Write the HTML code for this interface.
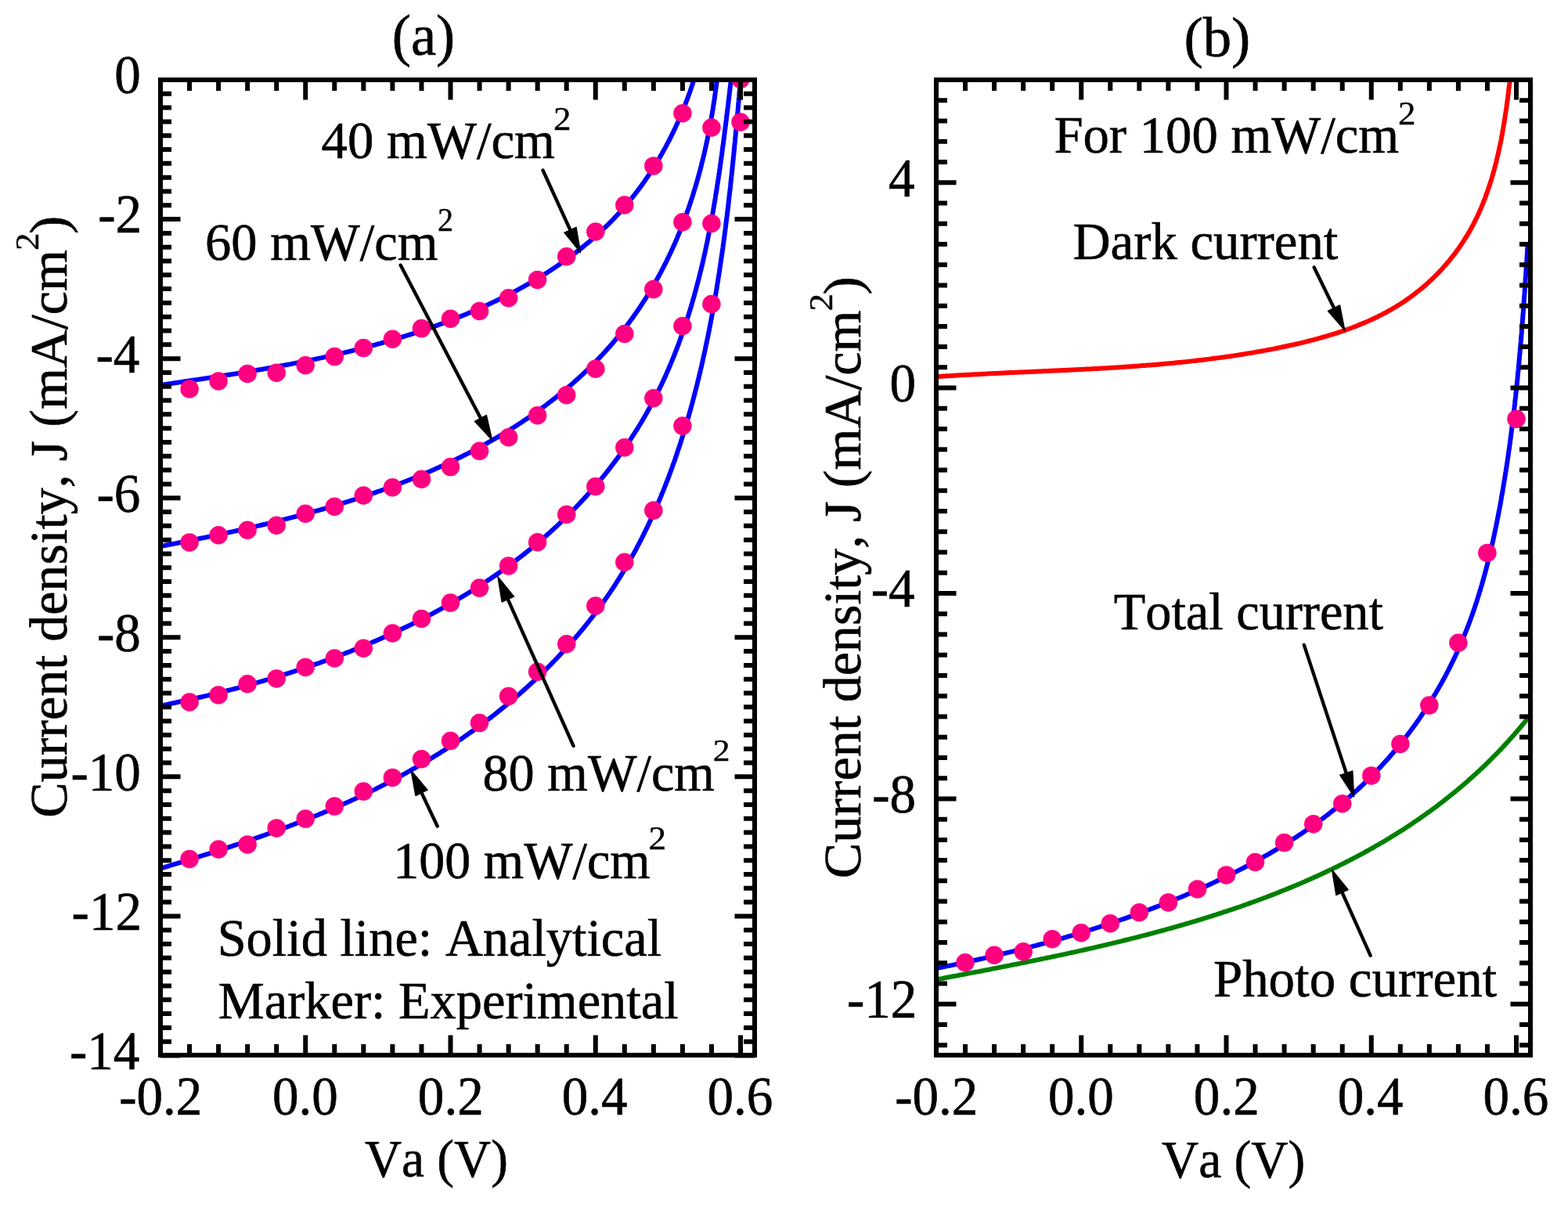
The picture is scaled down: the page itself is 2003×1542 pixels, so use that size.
<!DOCTYPE html><html><head><meta charset="utf-8"><title>J-V curves</title><style>html,body{margin:0;padding:0;background:#fff;overflow:hidden}svg{display:block}</style></head><body>
<svg width="2003" height="1542" viewBox="0 0 2003 1542">
<rect width="2003" height="1542" fill="#fff"/>
<defs><clipPath id="ca"><rect x="205" y="102" width="759" height="1246"/></clipPath><clipPath id="cb"><rect x="1196" y="102" width="759" height="1246.5"/></clipPath></defs>
<g clip-path="url(#ca)">
<path d="M205.2,491.9 L206.8,491.6 L208.4,491.4 L210.1,491.1 L211.7,490.9 L213.4,490.7 L215.0,490.4 L216.7,490.2 L218.3,490.0 L219.9,489.7 L221.6,489.5 L223.2,489.2 L224.9,489.0 L226.5,488.8 L228.2,488.5 L229.8,488.3 L231.5,488.0 L233.1,487.8 L234.7,487.5 L236.4,487.3 L238.0,487.1 L239.7,486.8 L241.3,486.6 L243.0,486.3 L244.6,486.1 L246.3,485.8 L247.9,485.6 L249.6,485.4 L251.2,485.1 L252.9,484.9 L254.5,484.6 L256.2,484.4 L257.8,484.1 L259.5,483.9 L261.1,483.6 L262.8,483.4 L264.4,483.1 L266.0,482.9 L267.7,482.6 L269.3,482.4 L271.0,482.1 L272.6,481.9 L274.3,481.6 L275.9,481.4 L277.6,481.1 L279.2,480.8 L280.9,480.6 L282.5,480.3 L284.2,480.1 L285.8,479.8 L287.5,479.6 L289.1,479.3 L290.8,479.0 L292.4,478.8 L294.1,478.5 L295.7,478.2 L297.4,478.0 L299.0,477.7 L300.7,477.5 L302.3,477.2 L304.0,476.9 L305.6,476.7 L307.3,476.4 L308.9,476.1 L310.6,475.8 L312.2,475.6 L313.9,475.3 L315.5,475.0 L317.2,474.8 L318.8,474.5 L320.5,474.2 L322.1,473.9 L323.8,473.6 L325.4,473.4 L327.1,473.1 L328.7,472.8 L330.3,472.5 L332.0,472.2 L333.6,472.0 L335.3,471.7 L336.9,471.4 L338.6,471.1 L340.2,470.8 L341.9,470.5 L343.5,470.2 L345.2,469.9 L346.8,469.6 L348.5,469.3 L350.1,469.0 L351.8,468.7 L353.4,468.4 L355.0,468.1 L356.7,467.8 L358.3,467.5 L360.0,467.2 L361.6,466.9 L363.3,466.6 L364.9,466.3 L366.5,466.0 L368.2,465.7 L369.8,465.4 L371.5,465.1 L373.1,464.7 L374.8,464.4 L376.4,464.1 L378.0,463.8 L379.7,463.5 L381.3,463.1 L383.0,462.8 L384.6,462.5 L386.2,462.2 L387.9,461.8 L389.5,461.5 L391.2,461.2 L392.8,460.8 L394.4,460.5 L396.1,460.2 L397.7,459.8 L399.4,459.5 L401.0,459.2 L402.6,458.8 L404.3,458.5 L405.9,458.1 L407.5,457.8 L409.2,457.4 L410.8,457.1 L412.4,456.7 L414.1,456.4 L415.7,456.0 L417.3,455.6 L419.0,455.3 L420.6,454.9 L422.2,454.6 L423.9,454.2 L425.5,453.8 L427.1,453.5 L428.7,453.1 L430.4,452.7 L432.0,452.3 L433.6,452.0 L435.3,451.6 L436.9,451.2 L438.5,450.8 L440.1,450.4 L441.8,450.0 L443.4,449.7 L445.0,449.3 L446.6,448.9 L448.3,448.5 L449.9,448.1 L451.5,447.7 L453.1,447.3 L454.7,446.9 L456.4,446.5 L458.0,446.1 L459.6,445.6 L461.2,445.2 L462.8,444.8 L464.5,444.4 L466.1,444.0 L467.7,443.6 L469.3,443.1 L470.9,442.7 L472.5,442.3 L474.2,441.9 L475.8,441.4 L477.4,441.0 L479.0,440.6 L480.6,440.1 L482.2,439.7 L483.8,439.2 L485.4,438.8 L487.0,438.4 L488.7,437.9 L490.3,437.4 L491.9,437.0 L493.5,436.5 L495.1,436.1 L496.7,435.6 L498.3,435.2 L499.9,434.7 L501.5,434.2 L503.1,433.7 L504.7,433.3 L506.3,432.8 L507.9,432.3 L509.5,431.8 L511.1,431.3 L512.7,430.9 L514.3,430.4 L515.9,429.9 L517.5,429.4 L519.1,428.9 L520.7,428.4 L522.3,427.9 L523.8,427.4 L525.4,426.9 L527.0,426.4 L528.6,425.9 L530.2,425.3 L531.8,424.8 L533.4,424.3 L535.0,423.8 L536.5,423.2 L538.1,422.7 L539.7,422.2 L541.3,421.7 L542.9,421.1 L544.5,420.6 L546.0,420.0 L547.6,419.5 L549.2,418.9 L550.8,418.4 L552.4,417.8 L553.9,417.3 L555.5,416.7 L557.1,416.1 L558.6,415.6 L560.2,415.0 L561.8,414.4 L563.4,413.9 L564.9,413.3 L566.5,412.7 L568.1,412.1 L569.6,411.5 L571.2,410.9 L572.8,410.4 L574.3,409.8 L575.9,409.2 L577.4,408.6 L579.0,407.9 L580.6,407.3 L582.1,406.7 L583.7,406.1 L585.2,405.5 L586.8,404.9 L588.3,404.2 L589.9,403.6 L591.4,403.0 L593.0,402.4 L594.5,401.7 L596.1,401.1 L597.6,400.4 L599.2,399.8 L600.7,399.1 L602.3,398.5 L603.8,397.8 L605.4,397.2 L606.9,396.5 L608.4,395.8 L610.0,395.2 L611.5,394.5 L613.0,393.8 L614.6,393.1 L616.1,392.4 L617.6,391.8 L619.2,391.1 L620.7,390.4 L622.2,389.7 L623.8,389.0 L625.3,388.3 L626.8,387.6 L628.3,386.9 L629.8,386.1 L631.3,385.4 L632.9,384.7 L634.4,384.0 L635.9,383.2 L637.4,382.5 L638.9,381.8 L640.4,381.0 L641.9,380.3 L643.4,379.5 L644.9,378.8 L646.4,378.0 L647.9,377.3 L649.4,376.5 L650.9,375.8 L652.4,375.0 L653.9,374.2 L655.3,373.4 L656.8,372.7 L658.3,371.9 L659.8,371.1 L661.3,370.3 L662.7,369.5 L664.2,368.7 L665.7,367.9 L667.1,367.1 L668.6,366.3 L670.1,365.5 L671.5,364.6 L673.0,363.8 L674.4,363.0 L675.9,362.2 L677.3,361.3 L678.8,360.5 L680.2,359.7 L681.7,358.8 L683.1,358.0 L684.5,357.1 L686.0,356.3 L687.4,355.4 L688.8,354.5 L690.2,353.7 L691.7,352.8 L693.1,351.9 L694.5,351.0 L695.9,350.1 L697.3,349.3 L698.7,348.4 L700.1,347.5 L701.5,346.6 L702.9,345.7 L704.3,344.7 L705.7,343.8 L707.1,342.9 L708.5,342.0 L709.9,341.1 L711.3,340.1 L712.6,339.2 L714.0,338.3 L715.4,337.3 L716.7,336.4 L718.1,335.4 L719.5,334.5 L720.8,333.5 L722.2,332.5 L723.5,331.6 L724.9,330.6 L726.2,329.6 L727.5,328.6 L728.9,327.7 L730.2,326.7 L731.5,325.7 L732.9,324.7 L734.2,323.7 L735.5,322.7 L736.8,321.7 L738.1,320.6 L739.4,319.6 L740.7,318.6 L742.0,317.6 L743.3,316.5 L744.6,315.5 L745.9,314.4 L747.2,313.4 L748.5,312.3 L749.7,311.3 L751.0,310.2 L752.3,309.2 L753.5,308.1 L754.8,307.0 L756.0,305.9 L757.3,304.9 L758.5,303.8 L759.8,302.7 L761.0,301.6 L762.2,300.5 L763.5,299.4 L764.7,298.3 L765.9,297.1 L767.1,296.0 L768.3,294.9 L769.5,293.8 L770.7,292.6 L771.9,291.5 L773.1,290.3 L774.3,289.2 L775.5,288.0 L776.7,286.9 L777.9,285.7 L779.0,284.5 L780.2,283.4 L781.3,282.2 L782.5,281.0 L783.7,279.8 L784.8,278.6 L785.9,277.4 L787.1,276.2 L788.2,275.0 L789.3,273.8 L790.5,272.6 L791.6,271.4 L792.7,270.1 L793.8,268.9 L794.9,267.7 L796.0,266.4 L797.1,265.2 L798.2,263.9 L799.2,262.7 L800.3,261.4 L801.4,260.1 L802.5,258.9 L803.5,257.6 L804.6,256.3 L805.6,255.0 L806.7,253.7 L807.7,252.4 L808.7,251.1 L809.8,249.8 L810.8,248.5 L811.8,247.2 L812.8,245.9 L813.8,244.6 L814.8,243.2 L815.8,241.9 L816.8,240.6 L817.8,239.2 L818.8,237.9 L819.8,236.5 L820.8,235.2 L821.7,233.8 L822.7,232.5 L823.6,231.1 L824.6,229.7 L825.5,228.4 L826.5,227.0 L827.4,225.6 L828.4,224.2 L829.3,222.8 L830.2,221.4 L831.1,220.0 L832.0,218.6 L832.9,217.2 L833.8,215.8 L834.7,214.4 L835.6,213.0 L836.5,211.6 L837.4,210.1 L838.3,208.7 L839.1,207.3 L840.0,205.8 L840.9,204.4 L841.7,203.0 L842.6,201.5 L843.4,200.1 L844.2,198.6 L845.1,197.2 L845.9,195.7 L846.7,194.2 L847.5,192.8 L848.3,191.3 L849.2,189.8 L850.0,188.4 L850.8,186.9 L851.5,185.4 L852.3,183.9 L853.1,182.4 L853.9,180.9 L854.7,179.5 L855.4,178.0 L856.2,176.5 L856.9,175.0 L857.7,173.5 L858.4,172.0 L859.2,170.4 L859.9,168.9 L860.6,167.4 L861.3,165.9 L862.1,164.4 L862.8,162.9 L863.5,161.3 L864.2,159.8 L864.9,158.3 L865.6,156.7 L866.3,155.2 L866.9,153.7 L867.6,152.1 L868.3,150.6 L868.9,149.1 L869.6,147.5 L870.3,146.0 L870.9,144.4 L871.6,142.9 L872.2,141.3 L872.8,139.8 L873.4,138.2 L874.1,136.6 L874.7,135.1 L875.3,133.5 L875.9,131.9 L876.5,130.4 L877.1,128.8 L877.7,127.2 L878.3,125.7 L878.9,124.1 L879.4,122.5 L880.0,120.9 L880.6,119.4 L881.1,117.8 L881.7,116.2 L882.2,114.6 L882.8,113.0 L883.3,111.4 L883.8,109.9 L884.4,108.3 L884.9,106.7 L885.4,105.1 L885.9,103.5" fill="none" stroke="#0000FF" stroke-width="6.0" stroke-linejoin="round"/>
<path d="M205.6,697.8 L207.6,697.5 L209.5,697.1 L211.4,696.7 L213.4,696.3 L215.3,696.0 L217.3,695.6 L219.2,695.2 L221.1,694.8 L223.1,694.5 L225.0,694.1 L227.0,693.7 L228.9,693.3 L230.9,692.9 L232.8,692.5 L234.8,692.1 L236.7,691.8 L238.7,691.4 L240.6,691.0 L242.6,690.6 L244.5,690.2 L246.5,689.8 L248.5,689.4 L250.4,689.0 L252.4,688.6 L254.3,688.2 L256.3,687.8 L258.3,687.4 L260.2,687.0 L262.2,686.6 L264.1,686.2 L266.1,685.8 L268.1,685.4 L270.0,685.0 L272.0,684.6 L274.0,684.1 L275.9,683.7 L277.9,683.3 L279.9,682.9 L281.9,682.5 L283.8,682.1 L285.8,681.6 L287.8,681.2 L289.7,680.8 L291.7,680.4 L293.7,679.9 L295.7,679.5 L297.6,679.1 L299.6,678.6 L301.6,678.2 L303.6,677.8 L305.5,677.3 L307.5,676.9 L309.5,676.4 L311.5,676.0 L313.4,675.5 L315.4,675.1 L317.4,674.6 L319.4,674.2 L321.3,673.7 L323.3,673.3 L325.3,672.8 L327.3,672.4 L329.3,671.9 L331.2,671.4 L333.2,671.0 L335.2,670.5 L337.2,670.0 L339.1,669.6 L341.1,669.1 L343.1,668.6 L345.1,668.1 L347.1,667.7 L349.0,667.2 L351.0,666.7 L353.0,666.2 L355.0,665.7 L356.9,665.2 L358.9,664.7 L360.9,664.2 L362.9,663.7 L364.8,663.2 L366.8,662.7 L368.8,662.2 L370.8,661.7 L372.8,661.2 L374.7,660.7 L376.7,660.2 L378.7,659.7 L380.6,659.1 L382.6,658.6 L384.6,658.1 L386.6,657.6 L388.5,657.0 L390.5,656.5 L392.5,656.0 L394.5,655.4 L396.4,654.9 L398.4,654.3 L400.4,653.8 L402.3,653.2 L404.3,652.7 L406.3,652.1 L408.2,651.6 L410.2,651.0 L412.2,650.5 L414.1,649.9 L416.1,649.3 L418.1,648.7 L420.0,648.2 L422.0,647.6 L423.9,647.0 L425.9,646.4 L427.9,645.9 L429.8,645.3 L431.8,644.7 L433.7,644.1 L435.7,643.5 L437.6,642.9 L439.6,642.3 L441.5,641.7 L443.5,641.1 L445.4,640.5 L447.4,639.8 L449.3,639.2 L451.3,638.6 L453.2,638.0 L455.2,637.3 L457.1,636.7 L459.1,636.1 L461.0,635.4 L462.9,634.8 L464.9,634.2 L466.8,633.5 L468.8,632.9 L470.7,632.2 L472.6,631.6 L474.6,630.9 L476.5,630.2 L478.4,629.6 L480.3,628.9 L482.3,628.2 L484.2,627.5 L486.1,626.9 L488.0,626.2 L490.0,625.5 L491.9,624.8 L493.8,624.1 L495.7,623.4 L497.6,622.7 L499.5,622.0 L501.5,621.3 L503.4,620.6 L505.3,619.9 L507.2,619.2 L509.1,618.4 L511.0,617.7 L512.9,617.0 L514.8,616.2 L516.7,615.5 L518.6,614.8 L520.5,614.0 L522.4,613.3 L524.3,612.5 L526.2,611.8 L528.0,611.0 L529.9,610.2 L531.8,609.5 L533.7,608.7 L535.6,607.9 L537.5,607.1 L539.3,606.3 L541.2,605.6 L543.1,604.8 L544.9,604.0 L546.8,603.2 L548.7,602.4 L550.5,601.6 L552.4,600.7 L554.3,599.9 L556.1,599.1 L558.0,598.3 L559.8,597.5 L561.7,596.6 L563.5,595.8 L565.4,594.9 L567.2,594.1 L569.1,593.3 L570.9,592.4 L572.7,591.5 L574.6,590.7 L576.4,589.8 L578.2,588.9 L580.1,588.1 L581.9,587.2 L583.7,586.3 L585.5,585.4 L587.3,584.5 L589.2,583.6 L591.0,582.7 L592.8,581.8 L594.6,580.9 L596.4,580.0 L598.2,579.1 L600.0,578.1 L601.8,577.2 L603.6,576.3 L605.4,575.3 L607.2,574.4 L609.0,573.5 L610.7,572.5 L612.5,571.5 L614.3,570.6 L616.1,569.6 L617.8,568.6 L619.6,567.7 L621.4,566.7 L623.1,565.7 L624.9,564.7 L626.7,563.7 L628.4,562.7 L630.2,561.7 L631.9,560.7 L633.7,559.7 L635.4,558.7 L637.1,557.7 L638.9,556.6 L640.6,555.6 L642.3,554.5 L644.1,553.5 L645.8,552.5 L647.5,551.4 L649.2,550.3 L651.0,549.3 L652.7,548.2 L654.4,547.1 L656.1,546.1 L657.8,545.0 L659.5,543.9 L661.2,542.8 L662.9,541.7 L664.6,540.6 L666.2,539.5 L667.9,538.4 L669.6,537.2 L671.3,536.1 L673.0,535.0 L674.6,533.8 L676.3,532.7 L678.0,531.6 L679.6,530.4 L681.3,529.2 L682.9,528.1 L684.6,526.9 L686.2,525.7 L687.8,524.6 L689.5,523.4 L691.1,522.2 L692.7,521.0 L694.4,519.8 L696.0,518.6 L697.6,517.4 L699.2,516.2 L700.8,514.9 L702.4,513.7 L704.0,512.5 L705.6,511.2 L707.2,510.0 L708.8,508.8 L710.4,507.5 L711.9,506.2 L713.5,505.0 L715.1,503.7 L716.6,502.4 L718.2,501.2 L719.8,499.9 L721.3,498.6 L722.9,497.3 L724.4,496.0 L725.9,494.7 L727.5,493.4 L729.0,492.0 L730.5,490.7 L732.0,489.4 L733.5,488.1 L735.0,486.7 L736.5,485.4 L738.0,484.0 L739.5,482.7 L741.0,481.3 L742.5,479.9 L744.0,478.6 L745.4,477.2 L746.9,475.8 L748.4,474.4 L749.8,473.0 L751.3,471.6 L752.7,470.2 L754.1,468.8 L755.6,467.4 L757.0,466.0 L758.4,464.6 L759.8,463.1 L761.2,461.7 L762.6,460.3 L764.0,458.8 L765.4,457.4 L766.8,455.9 L768.2,454.4 L769.6,453.0 L770.9,451.5 L772.3,450.0 L773.6,448.5 L775.0,447.0 L776.3,445.5 L777.7,444.0 L779.0,442.5 L780.3,441.0 L781.6,439.5 L783.0,438.0 L784.3,436.4 L785.6,434.9 L786.8,433.4 L788.1,431.8 L789.4,430.3 L790.7,428.7 L791.9,427.2 L793.2,425.6 L794.5,424.0 L795.7,422.4 L796.9,420.9 L798.2,419.3 L799.4,417.7 L800.6,416.1 L801.8,414.5 L803.0,412.9 L804.2,411.2 L805.4,409.6 L806.6,408.0 L807.8,406.4 L809.0,404.7 L810.1,403.1 L811.3,401.5 L812.4,399.8 L813.6,398.2 L814.7,396.5 L815.9,394.8 L817.0,393.2 L818.1,391.5 L819.2,389.8 L820.3,388.1 L821.4,386.4 L822.5,384.7 L823.6,383.1 L824.7,381.3 L825.8,379.6 L826.8,377.9 L827.9,376.2 L828.9,374.5 L830.0,372.8 L831.0,371.0 L832.1,369.3 L833.1,367.6 L834.1,365.8 L835.1,364.1 L836.1,362.3 L837.1,360.6 L838.1,358.8 L839.1,357.1 L840.1,355.3 L841.1,353.5 L842.0,351.8 L843.0,350.0 L844.0,348.2 L844.9,346.4 L845.8,344.6 L846.8,342.8 L847.7,341.0 L848.6,339.2 L849.5,337.4 L850.5,335.6 L851.4,333.8 L852.2,332.0 L853.1,330.2 L854.0,328.3 L854.9,326.5 L855.8,324.7 L856.6,322.8 L857.5,321.0 L858.3,319.2 L859.2,317.3 L860.0,315.5 L860.8,313.6 L861.7,311.7 L862.5,309.9 L863.3,308.0 L864.1,306.2 L864.9,304.3 L865.7,302.4 L866.4,300.5 L867.2,298.7 L868.0,296.8 L868.8,294.9 L869.5,293.0 L870.3,291.1 L871.0,289.2 L871.7,287.3 L872.5,285.4 L873.2,283.5 L873.9,281.6 L874.6,279.7 L875.3,277.8 L876.0,275.9 L876.7,274.0 L877.4,272.0 L878.1,270.1 L878.8,268.2 L879.5,266.3 L880.1,264.4 L880.8,262.4 L881.4,260.5 L882.1,258.6 L882.7,256.6 L883.3,254.7 L884.0,252.7 L884.6,250.8 L885.2,248.8 L885.8,246.9 L886.4,245.0 L887.0,243.0 L887.6,241.0 L888.2,239.1 L888.8,237.1 L889.4,235.2 L889.9,233.2 L890.5,231.3 L891.0,229.3 L891.6,227.3 L892.1,225.4 L892.7,223.4 L893.2,221.4 L893.8,219.5 L894.3,217.5 L894.8,215.5 L895.3,213.5 L895.8,211.6 L896.3,209.6 L896.8,207.6 L897.3,205.6 L897.8,203.6 L898.3,201.7 L898.7,199.7 L899.2,197.7 L899.7,195.7 L900.1,193.7 L900.6,191.7 L901.0,189.8 L901.5,187.8 L901.9,185.8 L902.3,183.8 L902.8,181.8 L903.2,179.8 L903.6,177.8 L904.0,175.8 L904.4,173.8 L904.8,171.8 L905.2,169.9 L905.6,167.9 L906.0,165.9 L906.4,163.9 L906.8,161.9 L907.1,159.9 L907.5,157.9 L907.9,155.9 L908.2,153.9 L908.6,151.9 L908.9,149.9 L909.2,147.9 L909.6,145.9 L909.9,143.9 L910.2,141.9 L910.6,140.0 L910.9,138.0 L911.2,136.0 L911.5,134.0 L911.8,132.0 L912.1,130.0 L912.4,128.0 L912.7,126.0 L913.0,124.0 L913.2,122.0 L913.5,120.1 L913.8,118.1 L914.1,116.1 L914.3,114.1 L914.6,112.1 L914.8,110.1 L915.1,108.1 L915.3,106.2 L915.6,104.2" fill="none" stroke="#0000FF" stroke-width="6.0" stroke-linejoin="round"/>
<path d="M205.6,901.5 L207.8,901.1 L210.1,900.6 L212.4,900.2 L214.7,899.7 L217.0,899.2 L219.2,898.7 L221.5,898.3 L223.8,897.8 L226.1,897.3 L228.4,896.8 L230.7,896.3 L233.0,895.8 L235.3,895.3 L237.5,894.8 L239.8,894.3 L242.1,893.8 L244.4,893.3 L246.7,892.8 L249.0,892.3 L251.3,891.8 L253.6,891.2 L255.9,890.7 L258.2,890.2 L260.5,889.6 L262.8,889.1 L265.1,888.6 L267.4,888.0 L269.7,887.5 L272.0,886.9 L274.3,886.3 L276.6,885.8 L278.9,885.2 L281.2,884.6 L283.5,884.1 L285.7,883.5 L288.0,882.9 L290.3,882.3 L292.6,881.8 L294.9,881.2 L297.2,880.6 L299.5,880.0 L301.8,879.4 L304.1,878.8 L306.4,878.1 L308.7,877.5 L311.0,876.9 L313.3,876.3 L315.6,875.7 L317.9,875.0 L320.2,874.4 L322.5,873.8 L324.8,873.1 L327.1,872.5 L329.4,871.8 L331.7,871.2 L334.0,870.5 L336.3,869.9 L338.6,869.2 L340.9,868.5 L343.1,867.8 L345.4,867.2 L347.7,866.5 L350.0,865.8 L352.3,865.1 L354.6,864.4 L356.9,863.7 L359.2,863.0 L361.5,862.3 L363.7,861.6 L366.0,860.9 L368.3,860.2 L370.6,859.4 L372.9,858.7 L375.1,858.0 L377.4,857.2 L379.7,856.5 L382.0,855.7 L384.3,855.0 L386.5,854.2 L388.8,853.5 L391.1,852.7 L393.3,852.0 L395.6,851.2 L397.9,850.4 L400.1,849.6 L402.4,848.8 L404.7,848.0 L406.9,847.3 L409.2,846.5 L411.5,845.7 L413.7,844.8 L416.0,844.0 L418.2,843.2 L420.5,842.4 L422.7,841.6 L425.0,840.7 L427.2,839.9 L429.5,839.1 L431.7,838.2 L434.0,837.4 L436.2,836.5 L438.4,835.7 L440.7,834.8 L442.9,833.9 L445.2,833.1 L447.4,832.2 L449.6,831.3 L451.8,830.4 L454.1,829.5 L456.3,828.6 L458.5,827.7 L460.7,826.8 L463.0,825.9 L465.2,825.0 L467.4,824.1 L469.6,823.1 L471.8,822.2 L474.0,821.3 L476.2,820.3 L478.4,819.4 L480.6,818.4 L482.8,817.5 L485.0,816.5 L487.2,815.6 L489.4,814.6 L491.6,813.6 L493.8,812.6 L495.9,811.7 L498.1,810.7 L500.3,809.7 L502.5,808.7 L504.6,807.7 L506.8,806.7 L509.0,805.6 L511.1,804.6 L513.3,803.6 L515.5,802.6 L517.6,801.5 L519.8,800.5 L521.9,799.4 L524.1,798.4 L526.2,797.3 L528.4,796.3 L530.5,795.2 L532.6,794.1 L534.8,793.1 L536.9,792.0 L539.0,790.9 L541.1,789.8 L543.3,788.7 L545.4,787.6 L547.5,786.5 L549.6,785.4 L551.7,784.3 L553.8,783.1 L555.9,782.0 L558.0,780.9 L560.1,779.7 L562.2,778.6 L564.3,777.4 L566.4,776.3 L568.4,775.1 L570.5,773.9 L572.6,772.8 L574.7,771.6 L576.7,770.4 L578.8,769.2 L580.8,768.0 L582.9,766.8 L584.9,765.6 L587.0,764.4 L589.0,763.2 L591.1,761.9 L593.1,760.7 L595.1,759.5 L597.2,758.2 L599.2,757.0 L601.2,755.7 L603.2,754.5 L605.2,753.2 L607.2,751.9 L609.2,750.6 L611.2,749.4 L613.2,748.1 L615.2,746.8 L617.2,745.5 L619.2,744.2 L621.2,742.9 L623.1,741.5 L625.1,740.2 L627.1,738.9 L629.0,737.6 L631.0,736.2 L632.9,734.9 L634.9,733.5 L636.8,732.2 L638.8,730.8 L640.7,729.4 L642.6,728.0 L644.6,726.7 L646.5,725.3 L648.4,723.9 L650.3,722.5 L652.2,721.1 L654.1,719.6 L656.0,718.2 L657.9,716.8 L659.8,715.4 L661.7,713.9 L663.5,712.5 L665.4,711.0 L667.3,709.6 L669.2,708.1 L671.0,706.6 L672.9,705.2 L674.7,703.7 L676.6,702.2 L678.4,700.7 L680.2,699.2 L682.0,697.7 L683.9,696.2 L685.7,694.7 L687.5,693.1 L689.3,691.6 L691.1,690.1 L692.9,688.5 L694.7,687.0 L696.5,685.4 L698.3,683.9 L700.0,682.3 L701.8,680.7 L703.6,679.1 L705.3,677.5 L707.1,675.9 L708.8,674.3 L710.6,672.7 L712.3,671.1 L714.0,669.5 L715.7,667.9 L717.5,666.2 L719.2,664.6 L720.9,662.9 L722.6,661.3 L724.3,659.6 L726.0,657.9 L727.6,656.3 L729.3,654.6 L731.0,652.9 L732.7,651.2 L734.3,649.5 L736.0,647.8 L737.6,646.1 L739.3,644.3 L740.9,642.6 L742.5,640.9 L744.1,639.1 L745.8,637.4 L747.4,635.6 L749.0,633.9 L750.6,632.1 L752.2,630.3 L753.7,628.6 L755.3,626.8 L756.9,625.0 L758.4,623.2 L760.0,621.4 L761.5,619.6 L763.1,617.8 L764.6,615.9 L766.2,614.1 L767.7,612.3 L769.2,610.4 L770.7,608.6 L772.2,606.8 L773.7,604.9 L775.2,603.0 L776.7,601.2 L778.1,599.3 L779.6,597.4 L781.0,595.5 L782.5,593.6 L783.9,591.7 L785.4,589.8 L786.8,587.9 L788.2,586.0 L789.6,584.1 L791.0,582.2 L792.4,580.2 L793.8,578.3 L795.2,576.3 L796.6,574.4 L797.9,572.4 L799.3,570.5 L800.6,568.5 L802.0,566.6 L803.3,564.6 L804.6,562.6 L805.9,560.6 L807.2,558.6 L808.5,556.6 L809.8,554.6 L811.1,552.6 L812.4,550.6 L813.6,548.6 L814.9,546.6 L816.2,544.5 L817.4,542.5 L818.6,540.5 L819.8,538.4 L821.1,536.4 L822.3,534.3 L823.5,532.3 L824.6,530.2 L825.8,528.2 L827.0,526.1 L828.1,524.0 L829.3,521.9 L830.4,519.8 L831.6,517.8 L832.7,515.7 L833.8,513.6 L834.9,511.5 L836.0,509.4 L837.1,507.2 L838.2,505.1 L839.2,503.0 L840.3,500.9 L841.4,498.7 L842.4,496.6 L843.4,494.5 L844.5,492.3 L845.5,490.2 L846.5,488.0 L847.5,485.9 L848.5,483.7 L849.5,481.6 L850.5,479.4 L851.4,477.2 L852.4,475.0 L853.3,472.9 L854.3,470.7 L855.2,468.5 L856.2,466.3 L857.1,464.1 L858.0,461.9 L858.9,459.7 L859.8,457.5 L860.7,455.3 L861.6,453.1 L862.4,450.9 L863.3,448.7 L864.2,446.5 L865.0,444.2 L865.8,442.0 L866.7,439.8 L867.5,437.5 L868.3,435.3 L869.1,433.1 L869.9,430.8 L870.7,428.6 L871.5,426.3 L872.3,424.1 L873.1,421.8 L873.9,419.6 L874.6,417.3 L875.4,415.1 L876.1,412.8 L876.9,410.6 L877.6,408.3 L878.3,406.0 L879.1,403.8 L879.8,401.5 L880.5,399.2 L881.2,396.9 L881.9,394.7 L882.6,392.4 L883.2,390.1 L883.9,387.8 L884.6,385.5 L885.2,383.2 L885.9,380.9 L886.6,378.6 L887.2,376.3 L887.8,374.0 L888.5,371.7 L889.1,369.4 L889.7,367.1 L890.3,364.8 L890.9,362.5 L891.5,360.2 L892.1,357.9 L892.7,355.6 L893.3,353.3 L893.9,351.0 L894.4,348.7 L895.0,346.3 L895.6,344.0 L896.1,341.7 L896.7,339.4 L897.2,337.1 L897.8,334.7 L898.3,332.4 L898.8,330.1 L899.4,327.7 L899.9,325.4 L900.4,323.1 L900.9,320.8 L901.4,318.4 L901.9,316.1 L902.4,313.7 L902.9,311.4 L903.4,309.1 L903.9,306.7 L904.3,304.4 L904.8,302.0 L905.3,299.7 L905.7,297.4 L906.2,295.0 L906.7,292.7 L907.1,290.3 L907.5,288.0 L908.0,285.6 L908.4,283.3 L908.9,280.9 L909.3,278.6 L909.7,276.2 L910.1,273.9 L910.6,271.5 L911.0,269.2 L911.4,266.8 L911.8,264.5 L912.2,262.1 L912.6,259.8 L913.0,257.4 L913.4,255.0 L913.8,252.7 L914.1,250.3 L914.5,248.0 L914.9,245.6 L915.3,243.3 L915.7,240.9 L916.0,238.5 L916.4,236.2 L916.8,233.8 L917.1,231.5 L917.5,229.1 L917.8,226.7 L918.2,224.4 L918.5,222.0 L918.9,219.7 L919.2,217.3 L919.6,214.9 L919.9,212.6 L920.2,210.2 L920.6,207.9 L920.9,205.5 L921.2,203.1 L921.5,200.8 L921.9,198.4 L922.2,196.1 L922.5,193.7 L922.8,191.4 L923.1,189.0 L923.5,186.6 L923.8,184.3 L924.1,181.9 L924.4,179.6 L924.7,177.2 L925.0,174.9 L925.3,172.5 L925.6,170.2 L925.9,167.8 L926.2,165.4 L926.5,163.1 L926.8,160.7 L927.1,158.4 L927.4,156.0 L927.7,153.7 L928.0,151.3 L928.2,149.0 L928.5,146.7 L928.8,144.3 L929.1,142.0 L929.4,139.6 L929.7,137.3 L930.0,134.9 L930.2,132.6 L930.5,130.3 L930.8,127.9 L931.1,125.6 L931.4,123.2 L931.6,120.9 L931.9,118.6 L932.2,116.2 L932.5,113.9 L932.7,111.6 L933.0,109.2 L933.3,106.9 L933.6,104.6" fill="none" stroke="#0000FF" stroke-width="6.0" stroke-linejoin="round"/>
<path d="M205.3,1109.4 L207.9,1108.6 L210.5,1107.9 L213.0,1107.1 L215.6,1106.3 L218.2,1105.5 L220.8,1104.7 L223.4,1103.9 L226.0,1103.1 L228.6,1102.4 L231.2,1101.6 L233.8,1100.8 L236.4,1100.0 L239.0,1099.2 L241.6,1098.4 L244.2,1097.6 L246.8,1096.8 L249.4,1096.0 L252.0,1095.2 L254.6,1094.4 L257.2,1093.5 L259.8,1092.7 L262.4,1091.9 L265.0,1091.1 L267.6,1090.3 L270.2,1089.5 L272.8,1088.6 L275.4,1087.8 L278.0,1087.0 L280.6,1086.1 L283.2,1085.3 L285.8,1084.5 L288.4,1083.6 L291.0,1082.8 L293.6,1081.9 L296.2,1081.1 L298.8,1080.2 L301.4,1079.3 L304.0,1078.5 L306.6,1077.6 L309.2,1076.7 L311.8,1075.9 L314.3,1075.0 L316.9,1074.1 L319.5,1073.2 L322.1,1072.4 L324.7,1071.5 L327.3,1070.6 L329.9,1069.7 L332.5,1068.8 L335.1,1067.9 L337.7,1067.0 L340.3,1066.0 L342.9,1065.1 L345.4,1064.2 L348.0,1063.3 L350.6,1062.3 L353.2,1061.4 L355.8,1060.5 L358.4,1059.5 L360.9,1058.6 L363.5,1057.6 L366.1,1056.7 L368.7,1055.7 L371.2,1054.7 L373.8,1053.8 L376.4,1052.8 L378.9,1051.8 L381.5,1050.8 L384.1,1049.8 L386.6,1048.8 L389.2,1047.8 L391.8,1046.8 L394.3,1045.8 L396.9,1044.8 L399.4,1043.8 L402.0,1042.7 L404.5,1041.7 L407.1,1040.7 L409.6,1039.6 L412.2,1038.6 L414.7,1037.5 L417.3,1036.4 L419.8,1035.4 L422.3,1034.3 L424.9,1033.2 L427.4,1032.1 L429.9,1031.0 L432.5,1029.9 L435.0,1028.8 L437.5,1027.7 L440.0,1026.6 L442.5,1025.5 L445.1,1024.4 L447.6,1023.2 L450.1,1022.1 L452.6,1020.9 L455.1,1019.8 L457.6,1018.6 L460.1,1017.5 L462.6,1016.3 L465.1,1015.1 L467.6,1013.9 L470.1,1012.7 L472.5,1011.5 L475.0,1010.3 L477.5,1009.1 L480.0,1007.9 L482.4,1006.6 L484.9,1005.4 L487.4,1004.1 L489.8,1002.9 L492.3,1001.6 L494.7,1000.4 L497.2,999.1 L499.6,997.8 L502.1,996.5 L504.5,995.2 L507.0,993.9 L509.4,992.6 L511.8,991.3 L514.3,990.0 L516.7,988.6 L519.1,987.3 L521.5,985.9 L523.9,984.6 L526.3,983.2 L528.7,981.8 L531.1,980.5 L533.5,979.1 L535.9,977.7 L538.3,976.3 L540.7,974.9 L543.1,973.5 L545.4,972.1 L547.8,970.6 L550.2,969.2 L552.5,967.8 L554.9,966.3 L557.2,964.8 L559.6,963.4 L561.9,961.9 L564.2,960.4 L566.6,959.0 L568.9,957.5 L571.2,956.0 L573.5,954.5 L575.8,952.9 L578.1,951.4 L580.4,949.9 L582.7,948.4 L585.0,946.8 L587.3,945.3 L589.6,943.7 L591.9,942.1 L594.1,940.6 L596.4,939.0 L598.7,937.4 L600.9,935.8 L603.1,934.2 L605.4,932.6 L607.6,931.0 L609.9,929.4 L612.1,927.8 L614.3,926.1 L616.5,924.5 L618.7,922.8 L620.9,921.2 L623.1,919.5 L625.3,917.8 L627.5,916.2 L629.6,914.5 L631.8,912.8 L634.0,911.1 L636.1,909.4 L638.3,907.7 L640.4,905.9 L642.6,904.2 L644.7,902.5 L646.8,900.7 L648.9,899.0 L651.0,897.2 L653.1,895.5 L655.2,893.7 L657.3,891.9 L659.4,890.1 L661.5,888.3 L663.6,886.5 L665.6,884.7 L667.7,882.9 L669.7,881.1 L671.8,879.3 L673.8,877.4 L675.8,875.6 L677.8,873.8 L679.9,871.9 L681.9,870.0 L683.9,868.2 L685.8,866.3 L687.8,864.4 L689.8,862.5 L691.8,860.6 L693.7,858.7 L695.7,856.8 L697.6,854.9 L699.6,853.0 L701.5,851.0 L703.4,849.1 L705.3,847.1 L707.2,845.2 L709.1,843.2 L711.0,841.3 L712.9,839.3 L714.8,837.3 L716.6,835.3 L718.5,833.3 L720.3,831.3 L722.2,829.3 L724.0,827.3 L725.8,825.3 L727.6,823.2 L729.4,821.2 L731.2,819.2 L733.0,817.1 L734.8,815.0 L736.5,813.0 L738.3,810.9 L740.1,808.8 L741.8,806.7 L743.5,804.7 L745.3,802.6 L747.0,800.4 L748.7,798.3 L750.4,796.2 L752.1,794.1 L753.7,791.9 L755.4,789.8 L757.1,787.7 L758.7,785.5 L760.4,783.3 L762.0,781.2 L763.6,779.0 L765.2,776.8 L766.8,774.6 L768.4,772.4 L770.0,770.2 L771.6,768.0 L773.1,765.8 L774.7,763.6 L776.2,761.3 L777.8,759.1 L779.3,756.8 L780.8,754.6 L782.3,752.3 L783.8,750.1 L785.3,747.8 L786.8,745.5 L788.2,743.2 L789.7,740.9 L791.1,738.6 L792.5,736.3 L794.0,734.0 L795.4,731.7 L796.8,729.4 L798.2,727.0 L799.6,724.7 L800.9,722.3 L802.3,720.0 L803.6,717.6 L805.0,715.3 L806.3,712.9 L807.6,710.5 L809.0,708.1 L810.3,705.7 L811.6,703.4 L812.9,701.0 L814.1,698.5 L815.4,696.1 L816.7,693.7 L817.9,691.3 L819.2,688.9 L820.4,686.4 L821.6,684.0 L822.8,681.6 L824.0,679.1 L825.2,676.7 L826.4,674.2 L827.6,671.7 L828.8,669.3 L829.9,666.8 L831.1,664.3 L832.2,661.8 L833.4,659.3 L834.5,656.8 L835.6,654.3 L836.7,651.8 L837.8,649.3 L838.9,646.8 L840.0,644.3 L841.1,641.8 L842.2,639.3 L843.2,636.7 L844.3,634.2 L845.3,631.6 L846.3,629.1 L847.4,626.6 L848.4,624.0 L849.4,621.5 L850.4,618.9 L851.4,616.3 L852.4,613.8 L853.4,611.2 L854.4,608.6 L855.3,606.0 L856.3,603.5 L857.2,600.9 L858.2,598.3 L859.1,595.7 L860.0,593.1 L861.0,590.5 L861.9,587.9 L862.8,585.3 L863.7,582.7 L864.6,580.1 L865.4,577.4 L866.3,574.8 L867.2,572.2 L868.1,569.6 L868.9,567.0 L869.8,564.3 L870.6,561.7 L871.4,559.1 L872.3,556.4 L873.1,553.8 L873.9,551.1 L874.7,548.5 L875.5,545.8 L876.3,543.2 L877.1,540.5 L877.9,537.9 L878.6,535.2 L879.4,532.6 L880.2,529.9 L880.9,527.2 L881.7,524.6 L882.4,521.9 L883.1,519.2 L883.9,516.6 L884.6,513.9 L885.3,511.2 L886.0,508.5 L886.7,505.9 L887.4,503.2 L888.1,500.5 L888.8,497.8 L889.5,495.1 L890.2,492.4 L890.8,489.8 L891.5,487.1 L892.1,484.4 L892.8,481.7 L893.4,479.0 L894.1,476.3 L894.7,473.6 L895.3,470.9 L896.0,468.2 L896.6,465.5 L897.2,462.8 L897.8,460.1 L898.4,457.4 L899.0,454.7 L899.6,452.0 L900.2,449.3 L900.8,446.6 L901.3,443.9 L901.9,441.2 L902.5,438.5 L903.0,435.8 L903.6,433.1 L904.2,430.4 L904.7,427.7 L905.2,425.0 L905.8,422.3 L906.3,419.6 L906.8,416.9 L907.4,414.2 L907.9,411.5 L908.4,408.8 L908.9,406.1 L909.4,403.4 L909.9,400.7 L910.4,398.0 L910.9,395.2 L911.4,392.5 L911.9,389.8 L912.3,387.1 L912.8,384.4 L913.3,381.7 L913.7,379.0 L914.2,376.3 L914.7,373.6 L915.1,370.9 L915.6,368.1 L916.0,365.4 L916.4,362.7 L916.9,360.0 L917.3,357.3 L917.7,354.6 L918.2,351.9 L918.6,349.2 L919.0,346.5 L919.4,343.7 L919.8,341.0 L920.2,338.3 L920.6,335.6 L921.0,332.9 L921.4,330.2 L921.8,327.5 L922.2,324.7 L922.6,322.0 L923.0,319.3 L923.4,316.6 L923.7,313.9 L924.1,311.2 L924.5,308.4 L924.8,305.7 L925.2,303.0 L925.6,300.3 L925.9,297.6 L926.3,294.9 L926.6,292.2 L927.0,289.4 L927.3,286.7 L927.6,284.0 L928.0,281.3 L928.3,278.6 L928.7,275.9 L929.0,273.1 L929.3,270.4 L929.6,267.7 L930.0,265.0 L930.3,262.3 L930.6,259.6 L930.9,256.8 L931.2,254.1 L931.5,251.4 L931.8,248.7 L932.1,246.0 L932.5,243.3 L932.8,240.5 L933.1,237.8 L933.3,235.1 L933.6,232.4 L933.9,229.7 L934.2,227.0 L934.5,224.2 L934.8,221.5 L935.1,218.8 L935.4,216.1 L935.6,213.4 L935.9,210.7 L936.2,207.9 L936.5,205.2 L936.7,202.5 L937.0,199.8 L937.3,197.1 L937.6,194.4 L937.8,191.7 L938.1,188.9 L938.3,186.2 L938.6,183.5 L938.9,180.8 L939.1,178.1 L939.4,175.4 L939.6,172.7 L939.9,169.9 L940.1,167.2 L940.4,164.5 L940.7,161.8 L940.9,159.1 L941.2,156.4 L941.4,153.7 L941.6,150.9 L941.9,148.2 L942.1,145.5 L942.4,142.8 L942.6,140.1 L942.9,137.4 L943.1,134.7 L943.3,132.0 L943.6,129.3 L943.8,126.5 L944.1,123.8 L944.3,121.1 L944.5,118.4 L944.8,115.7 L945.0,113.0 L945.3,110.3 L945.5,107.6 L945.7,104.9" fill="none" stroke="#0000FF" stroke-width="6.0" stroke-linejoin="round"/>
<circle cx="242.1" cy="496.9" r="11.75" fill="#FF0080"/>
<circle cx="279.1" cy="486.9" r="11.75" fill="#FF0080"/>
<circle cx="316.1" cy="477.4" r="11.75" fill="#FF0080"/>
<circle cx="353.2" cy="476.3" r="11.75" fill="#FF0080"/>
<circle cx="390.2" cy="466.8" r="11.75" fill="#FF0080"/>
<circle cx="427.3" cy="455.6" r="11.75" fill="#FF0080"/>
<circle cx="464.3" cy="444.6" r="11.75" fill="#FF0080"/>
<circle cx="501.4" cy="433.2" r="11.75" fill="#FF0080"/>
<circle cx="538.5" cy="419.6" r="11.75" fill="#FF0080"/>
<circle cx="575.5" cy="407.2" r="11.75" fill="#FF0080"/>
<circle cx="612.5" cy="397.4" r="11.75" fill="#FF0080"/>
<circle cx="649.6" cy="380.8" r="11.75" fill="#FF0080"/>
<circle cx="686.6" cy="357.4" r="11.75" fill="#FF0080"/>
<circle cx="723.7" cy="327.7" r="11.75" fill="#FF0080"/>
<circle cx="760.8" cy="296.0" r="11.75" fill="#FF0080"/>
<circle cx="797.8" cy="261.9" r="11.75" fill="#FF0080"/>
<circle cx="834.8" cy="211.9" r="11.75" fill="#FF0080"/>
<circle cx="871.9" cy="144.8" r="11.75" fill="#FF0080"/>
<circle cx="242.1" cy="692.9" r="11.75" fill="#FF0080"/>
<circle cx="279.1" cy="683.8" r="11.75" fill="#FF0080"/>
<circle cx="316.1" cy="677.2" r="11.75" fill="#FF0080"/>
<circle cx="353.2" cy="671.2" r="11.75" fill="#FF0080"/>
<circle cx="390.2" cy="656.2" r="11.75" fill="#FF0080"/>
<circle cx="427.3" cy="647.3" r="11.75" fill="#FF0080"/>
<circle cx="464.3" cy="633.0" r="11.75" fill="#FF0080"/>
<circle cx="501.4" cy="622.8" r="11.75" fill="#FF0080"/>
<circle cx="538.5" cy="612.2" r="11.75" fill="#FF0080"/>
<circle cx="575.5" cy="596.6" r="11.75" fill="#FF0080"/>
<circle cx="612.5" cy="576.2" r="11.75" fill="#FF0080"/>
<circle cx="649.6" cy="558.7" r="11.75" fill="#FF0080"/>
<circle cx="686.6" cy="530.7" r="11.75" fill="#FF0080"/>
<circle cx="723.7" cy="504.8" r="11.75" fill="#FF0080"/>
<circle cx="760.8" cy="471.2" r="11.75" fill="#FF0080"/>
<circle cx="797.8" cy="426.5" r="11.75" fill="#FF0080"/>
<circle cx="834.8" cy="369.6" r="11.75" fill="#FF0080"/>
<circle cx="871.9" cy="283.8" r="11.75" fill="#FF0080"/>
<circle cx="908.9" cy="163.0" r="11.75" fill="#FF0080"/>
<circle cx="242.1" cy="897.0" r="11.75" fill="#FF0080"/>
<circle cx="279.1" cy="887.9" r="11.75" fill="#FF0080"/>
<circle cx="316.1" cy="873.8" r="11.75" fill="#FF0080"/>
<circle cx="353.2" cy="866.9" r="11.75" fill="#FF0080"/>
<circle cx="390.2" cy="852.4" r="11.75" fill="#FF0080"/>
<circle cx="427.3" cy="841.0" r="11.75" fill="#FF0080"/>
<circle cx="464.3" cy="828.2" r="11.75" fill="#FF0080"/>
<circle cx="501.4" cy="809.0" r="11.75" fill="#FF0080"/>
<circle cx="538.5" cy="790.5" r="11.75" fill="#FF0080"/>
<circle cx="575.5" cy="770.1" r="11.75" fill="#FF0080"/>
<circle cx="612.5" cy="751.1" r="11.75" fill="#FF0080"/>
<circle cx="649.6" cy="722.9" r="11.75" fill="#FF0080"/>
<circle cx="686.6" cy="692.8" r="11.75" fill="#FF0080"/>
<circle cx="723.7" cy="657.3" r="11.75" fill="#FF0080"/>
<circle cx="760.8" cy="621.5" r="11.75" fill="#FF0080"/>
<circle cx="797.8" cy="571.7" r="11.75" fill="#FF0080"/>
<circle cx="834.8" cy="508.7" r="11.75" fill="#FF0080"/>
<circle cx="871.9" cy="416.5" r="11.75" fill="#FF0080"/>
<circle cx="908.9" cy="285.5" r="11.75" fill="#FF0080"/>
<circle cx="946.0" cy="101.4" r="11.75" fill="#FF0080"/>
<circle cx="242.1" cy="1097.4" r="11.75" fill="#FF0080"/>
<circle cx="279.1" cy="1085.0" r="11.75" fill="#FF0080"/>
<circle cx="316.1" cy="1078.9" r="11.75" fill="#FF0080"/>
<circle cx="353.2" cy="1057.9" r="11.75" fill="#FF0080"/>
<circle cx="390.2" cy="1046.1" r="11.75" fill="#FF0080"/>
<circle cx="427.3" cy="1030.1" r="11.75" fill="#FF0080"/>
<circle cx="464.3" cy="1011.1" r="11.75" fill="#FF0080"/>
<circle cx="501.4" cy="993.4" r="11.75" fill="#FF0080"/>
<circle cx="538.5" cy="969.7" r="11.75" fill="#FF0080"/>
<circle cx="575.5" cy="946.5" r="11.75" fill="#FF0080"/>
<circle cx="612.5" cy="923.6" r="11.75" fill="#FF0080"/>
<circle cx="649.6" cy="889.4" r="11.75" fill="#FF0080"/>
<circle cx="686.6" cy="858.2" r="11.75" fill="#FF0080"/>
<circle cx="723.7" cy="822.7" r="11.75" fill="#FF0080"/>
<circle cx="760.8" cy="774.0" r="11.75" fill="#FF0080"/>
<circle cx="797.8" cy="718.2" r="11.75" fill="#FF0080"/>
<circle cx="834.8" cy="652.1" r="11.75" fill="#FF0080"/>
<circle cx="871.9" cy="544.1" r="11.75" fill="#FF0080"/>
<circle cx="908.9" cy="388.5" r="11.75" fill="#FF0080"/>
<circle cx="946.0" cy="156.0" r="11.75" fill="#FF0080"/>
</g>
<g clip-path="url(#cb)">
<path d="M1195.9,481.3 L1198.3,481.1 L1200.6,480.9 L1203.0,480.8 L1205.4,480.6 L1207.7,480.5 L1210.1,480.3 L1212.4,480.2 L1214.8,480.0 L1217.2,479.9 L1219.5,479.7 L1221.9,479.6 L1224.2,479.5 L1226.6,479.3 L1228.9,479.2 L1231.3,479.1 L1233.6,478.9 L1236.0,478.8 L1238.3,478.7 L1240.7,478.5 L1243.0,478.4 L1245.4,478.3 L1247.7,478.2 L1250.1,478.0 L1252.4,477.9 L1254.8,477.8 L1257.1,477.7 L1259.5,477.6 L1261.8,477.4 L1264.2,477.3 L1266.5,477.2 L1268.8,477.1 L1271.2,477.0 L1273.5,476.9 L1275.9,476.8 L1278.2,476.7 L1280.5,476.6 L1282.9,476.4 L1285.2,476.3 L1287.6,476.2 L1289.9,476.1 L1292.2,476.0 L1294.6,475.9 L1296.9,475.8 L1299.3,475.7 L1301.6,475.6 L1303.9,475.5 L1306.3,475.4 L1308.6,475.3 L1310.9,475.2 L1313.3,475.1 L1315.6,475.0 L1317.9,474.9 L1320.3,474.8 L1322.6,474.7 L1324.9,474.6 L1327.3,474.5 L1329.6,474.4 L1331.9,474.2 L1334.2,474.1 L1336.6,474.0 L1338.9,473.9 L1341.2,473.8 L1343.6,473.7 L1345.9,473.6 L1348.2,473.5 L1350.5,473.4 L1352.9,473.3 L1355.2,473.2 L1357.5,473.1 L1359.9,473.0 L1362.2,472.9 L1364.5,472.8 L1366.8,472.7 L1369.2,472.5 L1371.5,472.4 L1373.8,472.3 L1376.1,472.2 L1378.5,472.1 L1380.8,472.0 L1383.1,471.9 L1385.4,471.7 L1387.7,471.6 L1390.1,471.5 L1392.4,471.4 L1394.7,471.3 L1397.0,471.1 L1399.4,471.0 L1401.7,470.9 L1404.0,470.8 L1406.3,470.6 L1408.6,470.5 L1411.0,470.4 L1413.3,470.2 L1415.6,470.1 L1417.9,469.9 L1420.2,469.8 L1422.6,469.7 L1424.9,469.5 L1427.2,469.4 L1429.5,469.2 L1431.8,469.1 L1434.2,468.9 L1436.5,468.8 L1438.8,468.6 L1441.1,468.5 L1443.4,468.3 L1445.8,468.2 L1448.1,468.0 L1450.4,467.8 L1452.7,467.7 L1455.0,467.5 L1457.4,467.3 L1459.7,467.1 L1462.0,467.0 L1464.3,466.8 L1466.6,466.6 L1469.0,466.4 L1471.3,466.2 L1473.6,466.0 L1475.9,465.9 L1478.2,465.7 L1480.5,465.5 L1482.9,465.3 L1485.2,465.1 L1487.5,464.8 L1489.8,464.6 L1492.1,464.4 L1494.5,464.2 L1496.8,464.0 L1499.1,463.8 L1501.4,463.5 L1503.7,463.3 L1506.1,463.1 L1508.4,462.9 L1510.7,462.6 L1513.0,462.4 L1515.3,462.1 L1517.7,461.9 L1520.0,461.6 L1522.3,461.4 L1524.6,461.1 L1526.9,460.9 L1529.3,460.6 L1531.6,460.3 L1533.9,460.1 L1536.2,459.8 L1538.5,459.5 L1540.9,459.2 L1543.2,458.9 L1545.5,458.6 L1547.8,458.3 L1550.2,458.0 L1552.5,457.7 L1554.8,457.4 L1557.1,457.1 L1559.4,456.8 L1561.8,456.5 L1564.1,456.2 L1566.4,455.8 L1568.7,455.5 L1571.1,455.2 L1573.4,454.8 L1575.7,454.5 L1578.0,454.1 L1580.4,453.8 L1582.7,453.4 L1585.0,453.0 L1587.3,452.7 L1589.7,452.3 L1592.0,451.9 L1594.3,451.5 L1596.7,451.1 L1599.0,450.8 L1601.3,450.4 L1603.6,449.9 L1606.0,449.5 L1608.3,449.1 L1610.6,448.7 L1613.0,448.3 L1615.3,447.9 L1617.6,447.4 L1620.0,447.0 L1622.3,446.5 L1624.6,446.1 L1627.0,445.6 L1629.3,445.2 L1631.6,444.7 L1634.0,444.2 L1636.3,443.8 L1638.6,443.3 L1641.0,442.8 L1643.3,442.3 L1645.6,441.8 L1648.0,441.3 L1650.3,440.8 L1652.6,440.3 L1654.9,439.7 L1657.3,439.2 L1659.6,438.7 L1661.9,438.1 L1664.2,437.6 L1666.6,437.0 L1668.9,436.4 L1671.2,435.8 L1673.5,435.3 L1675.8,434.7 L1678.1,434.1 L1680.4,433.4 L1682.7,432.8 L1685.0,432.2 L1687.3,431.5 L1689.6,430.9 L1691.9,430.2 L1694.2,429.6 L1696.5,428.9 L1698.8,428.2 L1701.0,427.5 L1703.3,426.8 L1705.6,426.1 L1707.8,425.4 L1710.1,424.6 L1712.3,423.9 L1714.5,423.1 L1716.8,422.4 L1719.0,421.6 L1721.2,420.8 L1723.5,420.0 L1725.7,419.2 L1727.9,418.3 L1730.1,417.5 L1732.3,416.7 L1734.4,415.8 L1736.6,414.9 L1738.8,414.0 L1741.0,413.1 L1743.1,412.2 L1745.3,411.3 L1747.4,410.4 L1749.5,409.4 L1751.7,408.4 L1753.8,407.5 L1755.9,406.5 L1758.0,405.5 L1760.1,404.5 L1762.1,403.4 L1764.2,402.4 L1766.3,401.3 L1768.3,400.2 L1770.4,399.2 L1772.4,398.1 L1774.4,396.9 L1776.4,395.8 L1778.4,394.7 L1780.4,393.5 L1782.4,392.3 L1784.4,391.1 L1786.3,389.9 L1788.3,388.7 L1790.2,387.4 L1792.1,386.2 L1794.1,384.9 L1796.0,383.6 L1797.8,382.3 L1799.7,381.0 L1801.6,379.6 L1803.4,378.3 L1805.3,376.9 L1807.1,375.5 L1808.9,374.1 L1810.7,372.7 L1812.5,371.3 L1814.3,369.8 L1816.1,368.4 L1817.8,366.9 L1819.6,365.4 L1821.3,363.9 L1823.0,362.4 L1824.7,360.9 L1826.4,359.3 L1828.1,357.7 L1829.8,356.2 L1831.4,354.6 L1833.0,353.0 L1834.7,351.3 L1836.3,349.7 L1837.9,348.1 L1839.5,346.4 L1841.0,344.7 L1842.6,343.0 L1844.1,341.3 L1845.6,339.6 L1847.1,337.9 L1848.6,336.1 L1850.1,334.4 L1851.6,332.6 L1853.0,330.8 L1854.5,329.0 L1855.9,327.2 L1857.3,325.4 L1858.7,323.6 L1860.1,321.7 L1861.4,319.8 L1862.8,318.0 L1864.1,316.1 L1865.4,314.2 L1866.7,312.3 L1868.0,310.4 L1869.3,308.4 L1870.5,306.5 L1871.8,304.5 L1873.0,302.6 L1874.2,300.6 L1875.4,298.6 L1876.6,296.6 L1877.7,294.6 L1878.9,292.5 L1880.0,290.5 L1881.1,288.4 L1882.2,286.4 L1883.2,284.3 L1884.3,282.2 L1885.3,280.1 L1886.4,278.0 L1887.4,275.9 L1888.4,273.8 L1889.3,271.7 L1890.3,269.5 L1891.2,267.4 L1892.2,265.2 L1893.1,263.0 L1894.0,260.9 L1894.8,258.7 L1895.7,256.5 L1896.6,254.3 L1897.4,252.1 L1898.2,249.8 L1899.0,247.6 L1899.8,245.4 L1900.6,243.1 L1901.4,240.9 L1902.1,238.6 L1902.9,236.4 L1903.6,234.1 L1904.3,231.8 L1905.0,229.6 L1905.7,227.3 L1906.4,225.0 L1907.0,222.7 L1907.7,220.4 L1908.3,218.1 L1909.0,215.8 L1909.6,213.5 L1910.2,211.2 L1910.8,208.9 L1911.4,206.5 L1911.9,204.2 L1912.5,201.9 L1913.0,199.6 L1913.6,197.2 L1914.1,194.9 L1914.6,192.6 L1915.1,190.2 L1915.6,187.9 L1916.1,185.5 L1916.6,183.2 L1917.1,180.9 L1917.6,178.5 L1918.0,176.2 L1918.4,173.8 L1918.9,171.5 L1919.3,169.1 L1919.7,166.8 L1920.1,164.5 L1920.5,162.1 L1920.9,159.8 L1921.3,157.4 L1921.7,155.1 L1922.1,152.8 L1922.4,150.4 L1922.8,148.1 L1923.2,145.8 L1923.5,143.4 L1923.8,141.1 L1924.2,138.8 L1924.5,136.5 L1924.8,134.2 L1925.1,131.9 L1925.4,129.5 L1925.8,127.2 L1926.1,124.9 L1926.3,122.7 L1926.6,120.4 L1926.9,118.1 L1927.2,115.8 L1927.5,113.5 L1927.7,111.3 L1928.0,109.0 L1928.3,106.8 L1928.5,104.5" fill="none" stroke="#FF0000" stroke-width="6.0" stroke-linejoin="round"/>
<path d="M1197.2,1251.2 L1199.2,1250.8 L1201.2,1250.4 L1203.3,1250.1 L1205.3,1249.7 L1207.3,1249.3 L1209.4,1248.9 L1211.4,1248.5 L1213.5,1248.1 L1215.5,1247.7 L1217.6,1247.3 L1219.6,1247.0 L1221.7,1246.6 L1223.7,1246.2 L1225.8,1245.8 L1227.9,1245.4 L1229.9,1245.0 L1232.0,1244.6 L1234.0,1244.2 L1236.1,1243.8 L1238.2,1243.4 L1240.2,1243.0 L1242.3,1242.6 L1244.4,1242.2 L1246.4,1241.8 L1248.5,1241.5 L1250.6,1241.1 L1252.6,1240.7 L1254.7,1240.3 L1256.8,1239.9 L1258.9,1239.5 L1260.9,1239.1 L1263.0,1238.7 L1265.1,1238.3 L1267.2,1237.8 L1269.3,1237.4 L1271.4,1237.0 L1273.4,1236.6 L1275.5,1236.2 L1277.6,1235.8 L1279.7,1235.4 L1281.8,1235.0 L1283.9,1234.6 L1286.0,1234.2 L1288.1,1233.8 L1290.1,1233.4 L1292.2,1232.9 L1294.3,1232.5 L1296.4,1232.1 L1298.5,1231.7 L1300.6,1231.3 L1302.7,1230.9 L1304.8,1230.4 L1306.9,1230.0 L1309.0,1229.6 L1311.1,1229.2 L1313.2,1228.7 L1315.3,1228.3 L1317.4,1227.9 L1319.5,1227.5 L1321.6,1227.0 L1323.7,1226.6 L1325.8,1226.2 L1327.9,1225.7 L1330.0,1225.3 L1332.2,1224.9 L1334.3,1224.4 L1336.4,1224.0 L1338.5,1223.5 L1340.6,1223.1 L1342.7,1222.7 L1344.8,1222.2 L1346.9,1221.8 L1349.0,1221.3 L1351.1,1220.9 L1353.3,1220.4 L1355.4,1220.0 L1357.5,1219.5 L1359.6,1219.1 L1361.7,1218.6 L1363.8,1218.1 L1365.9,1217.7 L1368.0,1217.2 L1370.2,1216.8 L1372.3,1216.3 L1374.4,1215.8 L1376.5,1215.4 L1378.6,1214.9 L1380.7,1214.4 L1382.8,1214.0 L1385.0,1213.5 L1387.1,1213.0 L1389.2,1212.5 L1391.3,1212.0 L1393.4,1211.6 L1395.5,1211.1 L1397.7,1210.6 L1399.8,1210.1 L1401.9,1209.6 L1404.0,1209.1 L1406.1,1208.6 L1408.2,1208.1 L1410.4,1207.6 L1412.5,1207.2 L1414.6,1206.7 L1416.7,1206.1 L1418.8,1205.6 L1420.9,1205.1 L1423.1,1204.6 L1425.2,1204.1 L1427.3,1203.6 L1429.4,1203.1 L1431.5,1202.6 L1433.6,1202.1 L1435.7,1201.5 L1437.9,1201.0 L1440.0,1200.5 L1442.1,1200.0 L1444.2,1199.4 L1446.3,1198.9 L1448.4,1198.4 L1450.5,1197.8 L1452.6,1197.3 L1454.8,1196.8 L1456.9,1196.2 L1459.0,1195.7 L1461.1,1195.1 L1463.2,1194.6 L1465.3,1194.0 L1467.4,1193.5 L1469.5,1192.9 L1471.6,1192.4 L1473.7,1191.8 L1475.8,1191.2 L1477.9,1190.7 L1480.1,1190.1 L1482.2,1189.5 L1484.3,1189.0 L1486.4,1188.4 L1488.5,1187.8 L1490.6,1187.2 L1492.7,1186.7 L1494.8,1186.1 L1496.9,1185.5 L1499.0,1184.9 L1501.1,1184.3 L1503.2,1183.7 L1505.3,1183.1 L1507.4,1182.5 L1509.4,1181.9 L1511.5,1181.3 L1513.6,1180.7 L1515.7,1180.1 L1517.8,1179.5 L1519.9,1178.8 L1522.0,1178.2 L1524.1,1177.6 L1526.2,1177.0 L1528.3,1176.3 L1530.3,1175.7 L1532.4,1175.1 L1534.5,1174.4 L1536.6,1173.8 L1538.7,1173.2 L1540.7,1172.5 L1542.8,1171.9 L1544.9,1171.2 L1547.0,1170.6 L1549.1,1169.9 L1551.1,1169.2 L1553.2,1168.6 L1555.3,1167.9 L1557.3,1167.2 L1559.4,1166.6 L1561.5,1165.9 L1563.5,1165.2 L1565.6,1164.5 L1567.7,1163.9 L1569.7,1163.2 L1571.8,1162.5 L1573.9,1161.8 L1575.9,1161.1 L1578.0,1160.4 L1580.0,1159.7 L1582.1,1159.0 L1584.1,1158.3 L1586.2,1157.6 L1588.2,1156.8 L1590.3,1156.1 L1592.3,1155.4 L1594.4,1154.7 L1596.4,1153.9 L1598.5,1153.2 L1600.5,1152.5 L1602.5,1151.7 L1604.6,1151.0 L1606.6,1150.2 L1608.6,1149.5 L1610.7,1148.7 L1612.7,1148.0 L1614.7,1147.2 L1616.8,1146.5 L1618.8,1145.7 L1620.8,1144.9 L1622.8,1144.1 L1624.8,1143.4 L1626.9,1142.6 L1628.9,1141.8 L1630.9,1141.0 L1632.9,1140.2 L1634.9,1139.4 L1636.9,1138.6 L1638.9,1137.8 L1640.9,1137.0 L1642.9,1136.2 L1644.9,1135.4 L1646.9,1134.6 L1648.9,1133.7 L1650.9,1132.9 L1652.9,1132.1 L1654.9,1131.3 L1656.9,1130.4 L1658.9,1129.6 L1660.9,1128.7 L1662.8,1127.9 L1664.8,1127.0 L1666.8,1126.2 L1668.8,1125.3 L1670.8,1124.4 L1672.7,1123.6 L1674.7,1122.7 L1676.7,1121.8 L1678.6,1120.9 L1680.6,1120.1 L1682.5,1119.2 L1684.5,1118.3 L1686.5,1117.4 L1688.4,1116.5 L1690.4,1115.6 L1692.3,1114.7 L1694.2,1113.8 L1696.2,1112.8 L1698.1,1111.9 L1700.1,1111.0 L1702.0,1110.1 L1703.9,1109.1 L1705.9,1108.2 L1707.8,1107.3 L1709.7,1106.3 L1711.6,1105.4 L1713.6,1104.4 L1715.5,1103.4 L1717.4,1102.5 L1719.3,1101.5 L1721.2,1100.5 L1723.1,1099.6 L1725.0,1098.6 L1726.9,1097.6 L1728.8,1096.6 L1730.7,1095.6 L1732.6,1094.6 L1734.5,1093.6 L1736.4,1092.6 L1738.3,1091.6 L1740.2,1090.6 L1742.1,1089.6 L1743.9,1088.5 L1745.8,1087.5 L1747.7,1086.5 L1749.5,1085.4 L1751.4,1084.4 L1753.3,1083.3 L1755.1,1082.3 L1757.0,1081.2 L1758.8,1080.2 L1760.7,1079.1 L1762.5,1078.0 L1764.4,1076.9 L1766.2,1075.9 L1768.1,1074.8 L1769.9,1073.7 L1771.7,1072.6 L1773.6,1071.5 L1775.4,1070.4 L1777.2,1069.3 L1779.0,1068.1 L1780.8,1067.0 L1782.7,1065.9 L1784.5,1064.8 L1786.3,1063.6 L1788.1,1062.5 L1789.9,1061.4 L1791.7,1060.2 L1793.5,1059.1 L1795.3,1057.9 L1797.0,1056.7 L1798.8,1055.6 L1800.6,1054.4 L1802.4,1053.2 L1804.2,1052.0 L1805.9,1050.8 L1807.7,1049.6 L1809.5,1048.4 L1811.2,1047.2 L1813.0,1046.0 L1814.7,1044.8 L1816.5,1043.6 L1818.2,1042.4 L1820.0,1041.1 L1821.7,1039.9 L1823.4,1038.6 L1825.2,1037.4 L1826.9,1036.1 L1828.6,1034.9 L1830.3,1033.6 L1832.0,1032.4 L1833.8,1031.1 L1835.5,1029.8 L1837.2,1028.5 L1838.9,1027.2 L1840.6,1025.9 L1842.3,1024.6 L1844.0,1023.3 L1845.6,1022.0 L1847.3,1020.7 L1849.0,1019.4 L1850.7,1018.0 L1852.3,1016.7 L1854.0,1015.4 L1855.7,1014.0 L1857.3,1012.7 L1859.0,1011.3 L1860.6,1010.0 L1862.3,1008.6 L1863.9,1007.2 L1865.6,1005.8 L1867.2,1004.5 L1868.8,1003.1 L1870.5,1001.7 L1872.1,1000.3 L1873.7,998.9 L1875.3,997.5 L1876.9,996.0 L1878.5,994.6 L1880.1,993.2 L1881.7,991.7 L1883.3,990.3 L1884.9,988.9 L1886.5,987.4 L1888.1,985.9 L1889.7,984.5 L1891.2,983.0 L1892.8,981.5 L1894.4,980.0 L1895.9,978.6 L1897.5,977.1 L1899.0,975.6 L1900.6,974.1 L1902.1,972.5 L1903.7,971.0 L1905.2,969.5 L1906.7,968.0 L1908.2,966.4 L1909.8,964.9 L1911.3,963.3 L1912.8,961.8 L1914.3,960.2 L1915.8,958.7 L1917.3,957.1 L1918.8,955.5 L1920.3,953.9 L1921.8,952.3 L1923.2,950.7 L1924.7,949.1 L1926.2,947.5 L1927.6,945.9 L1929.1,944.3 L1930.6,942.6 L1932.0,941.0 L1933.4,939.4 L1934.9,937.7 L1936.3,936.0 L1937.8,934.4 L1939.2,932.7 L1940.6,931.0 L1942.0,929.4 L1943.4,927.7 L1944.8,926.0 L1946.2,924.3 L1947.6,922.6 L1949.0,920.9 L1950.4,919.1 L1951.8,917.4 L1953.2,915.7 L1954.5,913.9 L1955.9,912.2 L1957.3,910.4 L1958.6,908.7 L1960.0,906.9 L1961.3,905.1" fill="none" stroke="#008000" stroke-width="6.0" stroke-linejoin="round"/>
<path d="M1196.1,1237.1 L1199.4,1236.4 L1202.7,1235.8 L1206.0,1235.1 L1209.3,1234.4 L1212.6,1233.8 L1215.9,1233.1 L1219.2,1232.4 L1222.5,1231.7 L1225.8,1231.0 L1229.1,1230.3 L1232.4,1229.6 L1235.7,1228.9 L1238.9,1228.2 L1242.2,1227.5 L1245.5,1226.7 L1248.8,1226.0 L1252.1,1225.3 L1255.3,1224.6 L1258.6,1223.8 L1261.9,1223.1 L1265.1,1222.3 L1268.4,1221.6 L1271.7,1220.8 L1274.9,1220.0 L1278.2,1219.3 L1281.4,1218.5 L1284.7,1217.7 L1288.0,1216.9 L1291.2,1216.1 L1294.5,1215.3 L1297.7,1214.5 L1300.9,1213.7 L1304.2,1212.9 L1307.4,1212.1 L1310.7,1211.2 L1313.9,1210.4 L1317.1,1209.6 L1320.4,1208.7 L1323.6,1207.9 L1326.8,1207.0 L1330.1,1206.1 L1333.3,1205.3 L1336.5,1204.4 L1339.7,1203.5 L1343.0,1202.6 L1346.2,1201.7 L1349.4,1200.8 L1352.6,1199.9 L1355.8,1199.0 L1359.0,1198.1 L1362.2,1197.2 L1365.4,1196.2 L1368.6,1195.3 L1371.8,1194.3 L1375.0,1193.4 L1378.2,1192.4 L1381.4,1191.4 L1384.6,1190.5 L1387.8,1189.5 L1391.0,1188.5 L1394.2,1187.5 L1397.4,1186.5 L1400.5,1185.5 L1403.7,1184.5 L1406.9,1183.4 L1410.1,1182.4 L1413.3,1181.4 L1416.4,1180.3 L1419.6,1179.3 L1422.8,1178.2 L1425.9,1177.1 L1429.1,1176.1 L1432.2,1175.0 L1435.4,1173.9 L1438.6,1172.8 L1441.7,1171.7 L1444.9,1170.6 L1448.0,1169.4 L1451.2,1168.3 L1454.3,1167.2 L1457.5,1166.0 L1460.6,1164.8 L1463.7,1163.7 L1466.9,1162.5 L1470.0,1161.3 L1473.2,1160.1 L1476.3,1158.9 L1479.4,1157.7 L1482.5,1156.5 L1485.7,1155.3 L1488.8,1154.0 L1491.9,1152.8 L1495.0,1151.5 L1498.1,1150.3 L1501.3,1149.0 L1504.4,1147.7 L1507.5,1146.5 L1510.6,1145.2 L1513.7,1143.9 L1516.8,1142.5 L1519.9,1141.2 L1523.0,1139.9 L1526.1,1138.5 L1529.2,1137.2 L1532.2,1135.8 L1535.3,1134.4 L1538.4,1133.1 L1541.5,1131.7 L1544.5,1130.3 L1547.6,1128.9 L1550.7,1127.4 L1553.7,1126.0 L1556.8,1124.6 L1559.8,1123.1 L1562.8,1121.6 L1565.9,1120.2 L1568.9,1118.7 L1571.9,1117.2 L1574.9,1115.7 L1577.9,1114.2 L1580.9,1112.6 L1583.9,1111.1 L1586.9,1109.6 L1589.9,1108.0 L1592.9,1106.4 L1595.9,1104.8 L1598.8,1103.2 L1601.8,1101.6 L1604.7,1100.0 L1607.7,1098.4 L1610.6,1096.8 L1613.6,1095.1 L1616.5,1093.4 L1619.4,1091.8 L1622.3,1090.1 L1625.2,1088.4 L1628.1,1086.7 L1631.0,1084.9 L1633.9,1083.2 L1636.7,1081.5 L1639.6,1079.7 L1642.4,1077.9 L1645.3,1076.1 L1648.1,1074.3 L1650.9,1072.5 L1653.7,1070.7 L1656.5,1068.9 L1659.3,1067.0 L1662.1,1065.2 L1664.9,1063.3 L1667.6,1061.4 L1670.4,1059.5 L1673.1,1057.6 L1675.9,1055.7 L1678.6,1053.7 L1681.3,1051.8 L1684.0,1049.8 L1686.7,1047.8 L1689.4,1045.8 L1692.0,1043.8 L1694.7,1041.8 L1697.3,1039.8 L1700.0,1037.7 L1702.6,1035.6 L1705.2,1033.6 L1707.8,1031.5 L1710.4,1029.4 L1713.0,1027.2 L1715.5,1025.1 L1718.1,1023.0 L1720.6,1020.8 L1723.1,1018.6 L1725.6,1016.4 L1728.1,1014.2 L1730.6,1012.0 L1733.1,1009.8 L1735.5,1007.5 L1738.0,1005.2 L1740.4,1003.0 L1742.8,1000.7 L1745.2,998.3 L1747.6,996.0 L1750.0,993.7 L1752.4,991.3 L1754.7,988.9 L1757.0,986.5 L1759.3,984.1 L1761.6,981.7 L1763.9,979.3 L1766.2,976.8 L1768.4,974.4 L1770.7,971.9 L1772.9,969.4 L1775.1,966.9 L1777.3,964.3 L1779.5,961.8 L1781.7,959.3 L1783.8,956.7 L1785.9,954.1 L1788.0,951.5 L1790.1,948.9 L1792.2,946.3 L1794.3,943.6 L1796.4,941.0 L1798.4,938.3 L1800.4,935.7 L1802.4,933.0 L1804.4,930.3 L1806.4,927.6 L1808.3,924.9 L1810.3,922.1 L1812.2,919.4 L1814.1,916.6 L1816.0,913.8 L1817.9,911.1 L1819.7,908.3 L1821.6,905.5 L1823.4,902.6 L1825.2,899.8 L1827.0,897.0 L1828.7,894.1 L1830.5,891.3 L1832.2,888.4 L1834.0,885.5 L1835.7,882.6 L1837.3,879.7 L1839.0,876.8 L1840.7,873.9 L1842.3,871.0 L1843.9,868.0 L1845.5,865.1 L1847.1,862.1 L1848.6,859.1 L1850.2,856.2 L1851.7,853.2 L1853.2,850.2 L1854.7,847.2 L1856.2,844.1 L1857.6,841.1 L1859.1,838.1 L1860.5,835.0 L1861.9,832.0 L1863.2,828.9 L1864.6,825.9 L1865.9,822.8 L1867.3,819.7 L1868.6,816.6 L1869.8,813.5 L1871.1,810.4 L1872.3,807.3 L1873.6,804.2 L1874.8,801.1 L1876.0,798.0 L1877.2,794.8 L1878.3,791.7 L1879.5,788.5 L1880.6,785.4 L1881.7,782.2 L1882.8,779.1 L1883.9,775.9 L1884.9,772.7 L1886.0,769.5 L1887.0,766.3 L1888.0,763.1 L1889.0,759.9 L1890.0,756.7 L1891.0,753.5 L1891.9,750.3 L1892.9,747.1 L1893.8,743.9 L1894.7,740.6 L1895.6,737.4 L1896.5,734.1 L1897.4,730.9 L1898.2,727.7 L1899.1,724.4 L1899.9,721.1 L1900.8,717.9 L1901.6,714.6 L1902.4,711.4 L1903.2,708.1 L1903.9,704.8 L1904.7,701.5 L1905.5,698.2 L1906.2,695.0 L1907.0,691.7 L1907.7,688.4 L1908.4,685.1 L1909.1,681.8 L1909.8,678.5 L1910.5,675.2 L1911.2,671.9 L1911.8,668.6 L1912.5,665.3 L1913.1,662.0 L1913.8,658.7 L1914.4,655.4 L1915.0,652.1 L1915.7,648.8 L1916.3,645.4 L1916.9,642.1 L1917.5,638.8 L1918.0,635.5 L1918.6,632.2 L1919.2,628.9 L1919.8,625.5 L1920.3,622.2 L1920.9,618.9 L1921.4,615.6 L1922.0,612.2 L1922.5,608.9 L1923.0,605.6 L1923.6,602.3 L1924.1,598.9 L1924.6,595.6 L1925.1,592.3 L1925.6,589.0 L1926.1,585.6 L1926.6,582.3 L1927.0,579.0 L1927.5,575.6 L1928.0,572.3 L1928.4,569.0 L1928.9,565.6 L1929.3,562.3 L1929.8,559.0 L1930.2,555.6 L1930.6,552.3 L1931.1,549.0 L1931.5,545.6 L1931.9,542.3 L1932.3,539.0 L1932.7,535.6 L1933.1,532.3 L1933.5,528.9 L1933.9,525.6 L1934.3,522.3 L1934.7,518.9 L1935.1,515.6 L1935.4,512.2 L1935.8,508.9 L1936.2,505.6 L1936.5,502.2 L1936.9,498.9 L1937.2,495.5 L1937.6,492.2 L1937.9,488.8 L1938.3,485.5 L1938.6,482.1 L1938.9,478.8 L1939.2,475.4 L1939.6,472.1 L1939.9,468.7 L1940.2,465.4 L1940.5,462.1 L1940.8,458.7 L1941.1,455.4 L1941.4,452.0 L1941.7,448.7 L1942.0,445.3 L1942.3,442.0 L1942.6,438.6 L1942.9,435.3 L1943.1,431.9 L1943.4,428.6 L1943.7,425.2 L1943.9,421.9 L1944.2,418.5 L1944.5,415.2 L1944.7,411.8 L1945.0,408.5 L1945.3,405.1 L1945.5,401.8 L1945.8,398.4 L1946.0,395.0 L1946.3,391.7 L1946.5,388.3 L1946.7,385.0 L1947.0,381.6 L1947.2,378.3 L1947.5,374.9 L1947.7,371.6 L1947.9,368.2 L1948.2,364.9 L1948.4,361.5 L1948.6,358.2 L1948.8,354.8 L1949.1,351.5 L1949.3,348.1 L1949.5,344.8 L1949.7,341.4 L1949.9,338.1 L1950.2,334.7 L1950.4,331.4 L1950.6,328.0 L1950.8,324.7 L1951.0,321.3 L1951.2,318.0 L1951.4,314.6" fill="none" stroke="#0000FF" stroke-width="6.0" stroke-linejoin="round"/>
<circle cx="1233.0" cy="1229.7" r="11.75" fill="#FF0080"/>
<circle cx="1270.1" cy="1220.2" r="11.75" fill="#FF0080"/>
<circle cx="1307.2" cy="1215.8" r="11.75" fill="#FF0080"/>
<circle cx="1344.2" cy="1199.8" r="11.75" fill="#FF0080"/>
<circle cx="1381.2" cy="1191.8" r="11.75" fill="#FF0080"/>
<circle cx="1418.3" cy="1179.8" r="11.75" fill="#FF0080"/>
<circle cx="1455.3" cy="1165.8" r="11.75" fill="#FF0080"/>
<circle cx="1492.4" cy="1152.9" r="11.75" fill="#FF0080"/>
<circle cx="1529.5" cy="1135.9" r="11.75" fill="#FF0080"/>
<circle cx="1566.5" cy="1117.9" r="11.75" fill="#FF0080"/>
<circle cx="1603.5" cy="1101.5" r="11.75" fill="#FF0080"/>
<circle cx="1640.6" cy="1076.6" r="11.75" fill="#FF0080"/>
<circle cx="1677.7" cy="1052.7" r="11.75" fill="#FF0080"/>
<circle cx="1714.7" cy="1026.8" r="11.75" fill="#FF0080"/>
<circle cx="1751.8" cy="990.9" r="11.75" fill="#FF0080"/>
<circle cx="1788.8" cy="950.4" r="11.75" fill="#FF0080"/>
<circle cx="1825.8" cy="901.1" r="11.75" fill="#FF0080"/>
<circle cx="1862.9" cy="821.3" r="11.75" fill="#FF0080"/>
<circle cx="1899.9" cy="706.4" r="11.75" fill="#FF0080"/>
<circle cx="1937.0" cy="535.2" r="11.75" fill="#FF0080"/>
</g>
<path d="M205.00,102v25.5M205.00,1348v-25.5M242.05,102v14M242.05,1348v-14M279.10,102v14M279.10,1348v-14M316.15,102v14M316.15,1348v-14M353.20,102v14M353.20,1348v-14M390.25,102v25.5M390.25,1348v-25.5M427.30,102v14M427.30,1348v-14M464.35,102v14M464.35,1348v-14M501.40,102v14M501.40,1348v-14M538.45,102v14M538.45,1348v-14M575.50,102v25.5M575.50,1348v-25.5M612.55,102v14M612.55,1348v-14M649.60,102v14M649.60,1348v-14M686.65,102v14M686.65,1348v-14M723.70,102v14M723.70,1348v-14M760.75,102v25.5M760.75,1348v-25.5M797.80,102v14M797.80,1348v-14M834.85,102v14M834.85,1348v-14M871.90,102v14M871.90,1348v-14M908.95,102v14M908.95,1348v-14M946.00,102v25.5M946.00,1348v-25.5M205,102.00h25.5M964,102.00h-25.5M205,280.07h25.5M964,280.07h-25.5M205,458.14h25.5M964,458.14h-25.5M205,636.21h25.5M964,636.21h-25.5M205,814.29h25.5M964,814.29h-25.5M205,992.36h25.5M964,992.36h-25.5M205,1170.43h25.5M964,1170.43h-25.5M205,1348.50h25.5M964,1348.50h-25.5M205,119.81h14M964,119.81h-14M205,137.61h14M964,137.61h-14M205,155.42h14M964,155.42h-14M205,173.23h14M964,173.23h-14M205,191.04h14M964,191.04h-14M205,208.84h14M964,208.84h-14M205,226.65h14M964,226.65h-14M205,244.46h14M964,244.46h-14M205,262.26h14M964,262.26h-14M205,297.88h14M964,297.88h-14M205,315.69h14M964,315.69h-14M205,333.49h14M964,333.49h-14M205,351.30h14M964,351.30h-14M205,369.11h14M964,369.11h-14M205,386.91h14M964,386.91h-14M205,404.72h14M964,404.72h-14M205,422.53h14M964,422.53h-14M205,440.34h14M964,440.34h-14M205,475.95h14M964,475.95h-14M205,493.76h14M964,493.76h-14M205,511.56h14M964,511.56h-14M205,529.37h14M964,529.37h-14M205,547.18h14M964,547.18h-14M205,564.99h14M964,564.99h-14M205,582.79h14M964,582.79h-14M205,600.60h14M964,600.60h-14M205,618.41h14M964,618.41h-14M205,654.02h14M964,654.02h-14M205,671.83h14M964,671.83h-14M205,689.64h14M964,689.64h-14M205,707.44h14M964,707.44h-14M205,725.25h14M964,725.25h-14M205,743.06h14M964,743.06h-14M205,760.86h14M964,760.86h-14M205,778.67h14M964,778.67h-14M205,796.48h14M964,796.48h-14M205,832.09h14M964,832.09h-14M205,849.90h14M964,849.90h-14M205,867.71h14M964,867.71h-14M205,885.51h14M964,885.51h-14M205,903.32h14M964,903.32h-14M205,921.13h14M964,921.13h-14M205,938.94h14M964,938.94h-14M205,956.74h14M964,956.74h-14M205,974.55h14M964,974.55h-14M205,1010.16h14M964,1010.16h-14M205,1027.97h14M964,1027.97h-14M205,1045.78h14M964,1045.78h-14M205,1063.59h14M964,1063.59h-14M205,1081.39h14M964,1081.39h-14M205,1099.20h14M964,1099.20h-14M205,1117.01h14M964,1117.01h-14M205,1134.81h14M964,1134.81h-14M205,1152.62h14M964,1152.62h-14M205,1188.24h14M964,1188.24h-14M205,1206.04h14M964,1206.04h-14M205,1223.85h14M964,1223.85h-14M205,1241.66h14M964,1241.66h-14M205,1259.46h14M964,1259.46h-14M205,1277.27h14M964,1277.27h-14M205,1295.08h14M964,1295.08h-14M205,1312.89h14M964,1312.89h-14M205,1330.69h14M964,1330.69h-14" stroke="#000" stroke-width="6" fill="none"/>
<rect x="205" y="102" width="759" height="1246" fill="none" stroke="#000" stroke-width="6"/>
<path d="M1196.00,102v25.5M1196.00,1348v-25.5M1233.05,102v14M1233.05,1348v-14M1270.10,102v14M1270.10,1348v-14M1307.15,102v14M1307.15,1348v-14M1344.20,102v14M1344.20,1348v-14M1381.25,102v25.5M1381.25,1348v-25.5M1418.30,102v14M1418.30,1348v-14M1455.35,102v14M1455.35,1348v-14M1492.40,102v14M1492.40,1348v-14M1529.45,102v14M1529.45,1348v-14M1566.50,102v25.5M1566.50,1348v-25.5M1603.55,102v14M1603.55,1348v-14M1640.60,102v14M1640.60,1348v-14M1677.65,102v14M1677.65,1348v-14M1714.70,102v14M1714.70,1348v-14M1751.75,102v25.5M1751.75,1348v-25.5M1788.80,102v14M1788.80,1348v-14M1825.85,102v14M1825.85,1348v-14M1862.90,102v14M1862.90,1348v-14M1899.95,102v14M1899.95,1348v-14M1937.00,102v25.5M1937.00,1348v-25.5M1196,233.20h25.5M1955,233.20h-25.5M1196,495.60h25.5M1955,495.60h-25.5M1196,758.00h25.5M1955,758.00h-25.5M1196,1020.40h25.5M1955,1020.40h-25.5M1196,1282.80h25.5M1955,1282.80h-25.5M1196,102.00h14M1955,102.00h-14M1196,128.24h14M1955,128.24h-14M1196,154.48h14M1955,154.48h-14M1196,180.72h14M1955,180.72h-14M1196,206.96h14M1955,206.96h-14M1196,259.44h14M1955,259.44h-14M1196,285.68h14M1955,285.68h-14M1196,311.92h14M1955,311.92h-14M1196,338.16h14M1955,338.16h-14M1196,364.40h14M1955,364.40h-14M1196,390.64h14M1955,390.64h-14M1196,416.88h14M1955,416.88h-14M1196,443.12h14M1955,443.12h-14M1196,469.36h14M1955,469.36h-14M1196,521.84h14M1955,521.84h-14M1196,548.08h14M1955,548.08h-14M1196,574.32h14M1955,574.32h-14M1196,600.56h14M1955,600.56h-14M1196,626.80h14M1955,626.80h-14M1196,653.04h14M1955,653.04h-14M1196,679.28h14M1955,679.28h-14M1196,705.52h14M1955,705.52h-14M1196,731.76h14M1955,731.76h-14M1196,784.24h14M1955,784.24h-14M1196,810.48h14M1955,810.48h-14M1196,836.72h14M1955,836.72h-14M1196,862.96h14M1955,862.96h-14M1196,889.20h14M1955,889.20h-14M1196,915.44h14M1955,915.44h-14M1196,941.68h14M1955,941.68h-14M1196,967.92h14M1955,967.92h-14M1196,994.16h14M1955,994.16h-14M1196,1046.64h14M1955,1046.64h-14M1196,1072.88h14M1955,1072.88h-14M1196,1099.12h14M1955,1099.12h-14M1196,1125.36h14M1955,1125.36h-14M1196,1151.60h14M1955,1151.60h-14M1196,1177.84h14M1955,1177.84h-14M1196,1204.08h14M1955,1204.08h-14M1196,1230.32h14M1955,1230.32h-14M1196,1256.56h14M1955,1256.56h-14M1196,1309.04h14M1955,1309.04h-14M1196,1335.28h14M1955,1335.28h-14" stroke="#000" stroke-width="6" fill="none"/>
<rect x="1196" y="102" width="759" height="1246" fill="none" stroke="#000" stroke-width="6"/>
<g font-family="'Liberation Serif','Times New Roman',serif" font-size="100" fill="#000" stroke="#000" stroke-width="0.9" style="font-kerning:none">
<text transform="translate(146.28,119.40) scale(0.6707,0.6950)">0</text>
<text transform="translate(125.16,297.47) scale(0.6707,0.6950)">-2</text>
<text transform="translate(122.47,475.54) scale(0.6707,0.6950)">-4</text>
<text transform="translate(123.48,653.61) scale(0.6707,0.6950)">-6</text>
<text transform="translate(123.98,831.69) scale(0.6707,0.6950)">-8</text>
<text transform="translate(90.45,1009.76) scale(0.6707,0.6950)">-10</text>
<text transform="translate(91.62,1187.83) scale(0.6707,0.6950)">-12</text>
<text transform="translate(88.94,1365.90) scale(0.6707,0.6950)">-14</text>
<text transform="translate(1135.07,250.60) scale(0.6707,0.6950)">4</text>
<text transform="translate(1136.58,513.00) scale(0.6707,0.6950)">0</text>
<text transform="translate(1112.77,775.40) scale(0.6707,0.6950)">-4</text>
<text transform="translate(1114.28,1037.80) scale(0.6707,0.6950)">-8</text>
<text transform="translate(1081.92,1300.20) scale(0.6707,0.6950)">-12</text>
<text transform="translate(152.22,1424.30) scale(0.6707,0.6950)">-0.2</text>
<text transform="translate(348.03,1424.30) scale(0.6707,0.6950)">0.0</text>
<text transform="translate(533.87,1424.30) scale(0.6707,0.6950)">0.2</text>
<text transform="translate(717.78,1424.30) scale(0.6707,0.6950)">0.4</text>
<text transform="translate(903.53,1424.30) scale(0.6707,0.6950)">0.6</text>
<text transform="translate(1143.22,1424.30) scale(0.6707,0.6950)">-0.2</text>
<text transform="translate(1339.03,1424.30) scale(0.6707,0.6950)">0.0</text>
<text transform="translate(1524.87,1424.30) scale(0.6707,0.6950)">0.2</text>
<text transform="translate(1708.78,1424.30) scale(0.6707,0.6950)">0.4</text>
<text transform="translate(1894.53,1424.30) scale(0.6707,0.6950)">0.6</text>
<text transform="translate(500.74,70.30) scale(0.7255,0.7293)">(a)</text>
<text transform="translate(1512.53,72.45) scale(0.7267,0.7273)">(b)</text>
<text transform="translate(465.95,1502.55) scale(0.6527,0.6751)">Va (V)</text>
<text transform="translate(1483.95,1503.68) scale(0.6535,0.6740)">Va (V)</text>
<text transform="translate(84.70,1044.72) rotate(-90) scale(0.6806,0.6800)">Current density, J (mA/cm</text>
<text transform="translate(49.00,320.02) rotate(-90) scale(0.4500,0.4226)">2</text>
<text transform="translate(84.71,299.07) rotate(-90) scale(0.6990,0.6773)">)</text>
<text transform="translate(1098.90,1122.22) rotate(-90) scale(0.6806,0.6800)">Current density, J (mA/cm</text>
<text transform="translate(1063.20,397.52) rotate(-90) scale(0.4500,0.4226)">2</text>
<text transform="translate(1098.91,376.57) rotate(-90) scale(0.6990,0.6773)">)</text>
<text transform="translate(410.56,201.90) scale(0.6676,0.6850)">40 mW/cm</text>
<text transform="translate(262.07,332.00) scale(0.6652,0.6850)">60 mW/cm</text>
<text transform="translate(616.41,1009.90) scale(0.6633,0.6850)">80 mW/cm</text>
<text transform="translate(502.22,1122.10) scale(0.6607,0.6850)">100 mW/cm</text>
<text transform="translate(1346.40,194.70) scale(0.6669,0.6850)">For 100 mW/cm</text>
<text transform="translate(1370.40,330.80) scale(0.6672,0.6850)">Dark current</text>
<text transform="translate(1422.84,804.30) scale(0.6628,0.6850)">Total current</text>
<text transform="translate(1549.99,1272.70) scale(0.6688,0.6850)">Photo current</text>
<text transform="translate(277.72,1220.70) scale(0.6635,0.6850)">Solid line: Analytical</text>
<text transform="translate(278.71,1301.40) scale(0.6639,0.6850)">Marker: Experimental</text>
<text transform="translate(706.88,165.90) scale(0.4500,0.4242)">2</text>
<text transform="translate(558.89,295.30) scale(0.4025,0.4151)">2</text>
<text transform="translate(910.84,972.30) scale(0.4350,0.4091)">2</text>
<text transform="translate(828.46,1084.70) scale(0.4525,0.4151)">2</text>
<text transform="translate(1785.97,159.20) scale(0.4500,0.4121)">2</text>
</g>
<line x1="693.5" y1="217.5" x2="729.2" y2="295.5" stroke="#000" stroke-width="4.4" stroke-linecap="round"/><polygon points="741.7,322.8 720.7,297.2 736.1,290.2" fill="#000" stroke="#000" stroke-width="1.2" stroke-linejoin="round"/>
<line x1="511.7" y1="338.7" x2="614.9" y2="536.1" stroke="#000" stroke-width="4.4" stroke-linecap="round"/><polygon points="628.8,562.7 606.4,538.3 621.5,530.4" fill="#000" stroke="#000" stroke-width="1.2" stroke-linejoin="round"/>
<line x1="732.5" y1="952.9" x2="648.0" y2="763.8" stroke="#000" stroke-width="4.4" stroke-linecap="round"/><polygon points="635.8,736.4 656.6,762.2 641.1,769.1" fill="#000" stroke="#000" stroke-width="1.2" stroke-linejoin="round"/>
<line x1="558.7" y1="1055.5" x2="537.7" y2="1011.1" stroke="#000" stroke-width="4.4" stroke-linecap="round"/><polygon points="524.9,984.0 546.3,1009.3 530.9,1016.6" fill="#000" stroke="#000" stroke-width="1.2" stroke-linejoin="round"/>
<line x1="1678.6" y1="341.5" x2="1704.9" y2="395.3" stroke="#000" stroke-width="4.4" stroke-linecap="round"/><polygon points="1718.0,422.3 1696.3,397.3 1711.6,389.8" fill="#000" stroke="#000" stroke-width="1.2" stroke-linejoin="round"/>
<line x1="1665.8" y1="823.9" x2="1720.3" y2="989.4" stroke="#000" stroke-width="4.4" stroke-linecap="round"/><polygon points="1729.7,1017.9 1711.6,990.2 1727.8,984.8" fill="#000" stroke="#000" stroke-width="1.2" stroke-linejoin="round"/>
<line x1="1750.7" y1="1220.8" x2="1713.7" y2="1138.4" stroke="#000" stroke-width="4.4" stroke-linecap="round"/><polygon points="1701.4,1111.0 1722.3,1136.7 1706.8,1143.7" fill="#000" stroke="#000" stroke-width="1.2" stroke-linejoin="round"/>
</svg></body></html>
